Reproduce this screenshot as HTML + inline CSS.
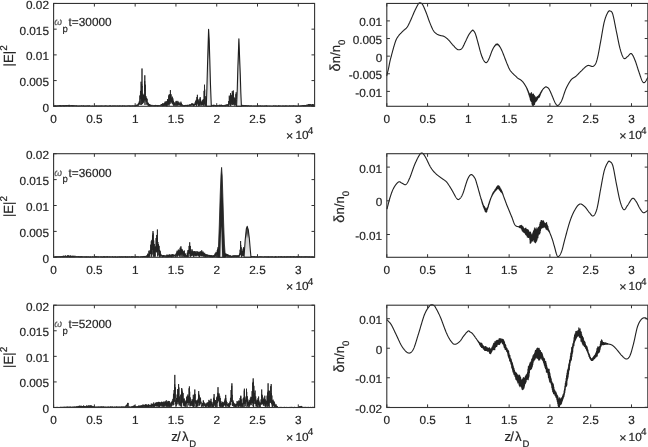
<!DOCTYPE html>
<html><head><meta charset="utf-8"><style>
html,body{margin:0;padding:0;background:#fff;width:648px;height:447px;overflow:hidden}
svg{display:block;filter:grayscale(1)}
text{text-rendering:geometricPrecision}
</style></head><body>
<svg width="648" height="447" viewBox="0 0 648 447">
<defs><linearGradient id="tg" x1="0" y1="0" x2="0" y2="1"><stop offset="0" stop-color="#333"/><stop offset="0.22" stop-color="#555"/><stop offset="0.4" stop-color="#d0d0d0"/><stop offset="1" stop-color="#eee"/></linearGradient></defs>
<g font-family="Liberation Sans, sans-serif" font-size="11.8" fill="#262626">
<polyline points="54.10,105.56 54.40,106.25 54.70,105.41 55.00,106.27 55.30,105.44 55.60,106.16 55.90,105.63 56.20,106.11 56.50,105.63 56.80,106.13 57.10,105.60 57.40,106.26 57.70,105.43 58.00,105.97 58.30,105.56 58.60,106.21 58.90,105.31 59.20,105.91 59.50,105.32 59.80,106.13 60.10,105.11 60.40,106.28 60.70,105.15 61.00,106.18 61.30,105.49 61.60,106.25 61.90,105.39 62.20,105.94 62.50,105.44 62.80,106.04 63.10,105.19 63.40,106.13 63.70,105.23 64.00,106.27 64.30,105.47 64.60,106.20 64.90,105.13 65.20,106.10 65.50,105.31 65.80,106.02 66.10,105.22 66.40,106.15 66.70,105.01 67.00,105.96 67.30,105.31 67.60,106.01 67.90,105.14 68.20,105.86 68.50,105.00 68.80,106.15 69.10,104.84 69.40,106.24 69.70,105.16 70.00,105.90 70.30,105.33 70.60,106.05 70.90,105.43 71.20,105.98 71.50,105.08 71.80,106.04 72.10,105.07 72.40,106.16 72.70,105.22 73.00,106.05 73.30,105.33 73.60,106.12 73.90,105.26 74.20,105.94 74.50,105.47 74.80,106.06 75.10,105.68 75.40,106.06 75.70,105.45 76.00,105.96 76.30,105.39 76.60,106.20 76.90,105.56 77.20,106.07 77.50,105.71 77.80,106.14 78.10,105.66 78.40,106.26 78.70,105.71 79.00,106.05 79.30,105.69 79.60,106.22 79.90,105.59 80.20,106.02 80.50,105.71 80.80,106.15 81.10,105.55 81.40,106.02 81.70,105.46 82.00,106.03 82.30,105.66 82.60,106.17 82.90,105.63 83.20,106.02 83.50,105.43 83.80,106.25 84.10,105.71 84.40,106.23 84.70,105.70 85.00,106.15 85.30,105.58 85.60,106.22 85.90,105.79 86.20,106.18 86.50,105.67 86.80,106.13 87.10,105.48 87.40,106.10 87.70,105.63 88.00,106.12 88.30,105.58 88.60,106.28 88.90,105.52 89.20,106.08 89.50,105.53 89.80,106.08 90.10,105.69 90.40,106.19 90.70,105.79 91.00,106.12 91.30,105.80 91.60,106.28 91.90,105.75 92.20,106.25 92.50,105.71 92.80,106.29 93.10,105.82 93.40,106.26 93.70,105.79 94.00,106.20 94.30,105.81 94.60,106.06 94.90,105.62 95.20,106.26 95.50,105.74 95.80,106.20 96.10,105.70 96.40,106.27 96.70,105.55 97.00,106.02 97.30,105.67 97.60,106.16 97.90,105.79 98.20,106.27 98.50,105.71 98.80,106.23 99.10,105.55 99.40,106.25 99.70,105.81 100.00,106.03 100.30,105.65 100.60,106.26 100.90,105.65 101.20,106.29 101.50,105.65 101.80,106.03 102.10,105.54 102.40,106.11 102.70,105.74 103.00,106.20 103.30,105.77 103.60,106.08 103.90,105.65 104.20,106.08 104.50,105.71 104.80,106.24 105.10,105.56 105.40,106.02 105.70,105.55 106.00,106.07 106.30,105.56 106.60,106.09 106.90,105.75 107.20,106.16 107.50,105.71 107.80,106.29 108.10,105.81 108.40,106.22 108.70,105.74 109.00,106.11 109.30,105.51 109.60,106.17 109.90,105.52 110.20,106.02 110.50,105.51 110.80,106.20 111.10,105.75 111.40,106.24 111.70,105.76 112.00,106.24 112.30,105.62 112.60,106.05 112.90,105.55 113.20,106.17 113.50,105.61 113.80,106.08 114.10,105.79 114.40,106.12 114.70,105.53 115.00,106.08 115.30,105.58 115.60,106.17 115.90,105.76 116.20,106.08 116.50,105.71 116.80,106.08 117.10,105.51 117.40,106.19 117.70,105.69 118.00,106.03 118.30,105.59 118.60,106.25 118.90,105.78 119.20,106.26 119.50,105.53 119.80,106.07 120.10,105.77 120.40,106.07 120.70,105.50 121.00,106.11 121.30,105.70 121.60,106.14 121.90,105.76 122.20,106.30 122.50,105.48 122.80,106.11 123.10,105.62 123.40,106.02 123.70,105.64 124.00,106.04 124.30,105.50 124.60,106.24 124.90,105.69 125.20,106.21 125.50,105.69 125.80,106.12 126.10,105.68 126.40,106.17 126.70,105.72 127.00,106.02 127.30,105.63 127.60,106.16 127.90,105.55 128.20,106.01 128.50,105.60 128.80,106.01 129.10,105.56 129.40,106.13 129.70,105.55 130.00,106.29 130.30,105.57 130.60,106.24 130.90,105.73 131.20,106.03 131.50,105.66 131.80,106.14 132.10,105.44 132.40,106.11 132.70,105.59 133.00,106.12 133.30,105.50 133.60,106.03 133.90,105.67 134.20,106.11 134.50,105.61 134.80,106.20 135.10,105.35 135.40,106.09 135.70,105.24 136.00,105.93 136.30,104.83 136.60,106.05 136.90,104.81 137.20,105.97 137.50,104.69 137.80,105.67 138.10,103.80 138.40,105.59 138.70,102.82 139.00,104.65 139.30,101.37 139.60,104.07 139.90,95.49 140.20,104.95 140.50,90.92 140.80,98.88 141.10,81.70 141.40,104.85 141.70,84.27 142.00,100.45 141.95,87.40 142.00,68.50 142.05,87.40 142.30,86.26 142.60,104.12 142.90,93.73 143.20,102.62 143.50,95.08 143.80,102.56 144.10,94.63 144.40,100.44 144.70,81.16 144.75,90.80 144.80,75.30 144.85,90.80 145.00,104.92 145.30,84.70 145.60,100.32 145.90,96.12 146.20,101.97 146.50,97.80 146.80,104.70 147.10,98.73 147.40,104.41 147.70,102.48 148.00,105.54 148.30,102.87 148.60,105.88 148.90,104.30 149.20,105.99 149.50,103.97 149.80,106.28 150.10,104.41 150.40,105.97 150.70,105.10 151.00,106.09 151.30,104.89 151.60,106.03 151.90,105.36 152.20,105.78 152.50,104.93 152.80,105.79 153.10,105.34 153.40,106.16 153.70,105.38 154.00,105.89 154.30,105.24 154.60,106.23 154.90,105.15 155.20,105.82 155.50,104.91 155.80,106.16 156.10,105.31 156.40,105.82 156.70,105.06 157.00,105.93 157.30,105.35 157.60,106.27 157.90,104.99 158.20,106.08 158.50,105.36 158.80,105.81 159.10,105.02 159.40,105.88 159.70,105.35 160.00,105.85 160.30,105.20 160.60,105.70 160.90,104.54 161.20,106.00 161.50,104.04 161.80,105.33 162.10,104.00 162.40,106.14 162.70,103.26 163.00,105.97 163.30,103.62 163.60,106.05 163.90,103.51 164.20,105.97 164.50,102.79 164.80,105.77 165.10,101.62 165.40,105.76 165.70,101.76 166.00,105.92 166.30,101.51 166.60,106.26 166.90,101.20 167.20,106.26 167.50,99.07 167.80,104.66 168.10,99.96 168.40,104.59 168.70,95.43 169.00,105.85 169.30,94.30 169.60,104.21 169.90,94.55 170.20,101.74 170.35,98.20 170.40,90.10 170.45,98.20 170.50,94.31 170.80,103.68 171.10,94.34 171.40,101.97 171.70,97.82 172.00,103.04 172.30,96.68 172.60,103.94 172.90,98.45 173.20,105.08 173.50,100.78 173.80,105.95 174.10,102.14 174.40,104.87 174.70,103.23 175.00,106.06 175.30,103.47 175.60,104.90 175.90,101.53 176.20,105.05 176.25,103.60 176.30,100.90 176.35,103.60 176.50,102.45 176.80,105.84 177.10,102.43 177.40,105.43 177.70,102.72 177.75,103.60 177.80,100.90 177.85,103.60 178.00,105.48 178.30,102.80 178.60,104.72 178.90,101.91 179.20,105.50 179.50,103.48 179.80,104.89 180.10,103.20 180.40,105.75 180.70,103.59 180.85,104.00 180.90,101.70 180.95,104.00 181.00,105.70 181.30,103.09 181.60,105.66 181.90,104.09 182.20,105.80 182.50,104.83 182.80,106.11 183.10,105.26 183.40,106.09 183.70,105.37 184.00,106.29 184.30,105.22 184.60,106.18 184.90,105.05 185.20,106.02 185.50,104.95 185.80,105.95 186.10,104.97 186.40,105.84 186.70,105.17 187.00,106.13 187.30,104.81 187.60,106.22 187.90,104.97 188.20,105.96 188.50,105.37 188.80,105.83 189.10,104.62 189.40,105.88 189.70,104.45 190.00,105.67 190.30,104.74 190.60,105.84 190.90,104.15 191.20,105.47 191.50,103.54 191.80,105.40 192.10,103.64 192.40,105.28 192.70,103.40 193.00,105.48 193.30,103.90 193.60,106.26 193.90,103.95 194.20,105.84 194.50,103.90 194.80,105.19 195.10,102.44 195.40,105.07 195.70,100.80 196.00,104.55 196.30,99.74 196.60,106.29 196.90,97.09 197.20,103.44 197.35,100.55 197.40,94.80 197.45,100.55 197.50,97.49 197.80,104.52 198.10,99.39 198.40,106.15 198.70,100.59 199.00,105.69 199.30,101.57 199.60,105.55 199.90,98.60 200.15,101.70 200.20,97.10 200.25,101.70 200.20,105.64 200.50,98.93 200.80,103.82 201.10,101.28 201.40,105.59 201.70,102.03 202.00,104.87 202.30,100.36 202.60,104.76 202.90,99.68 203.20,106.07 203.50,99.26 203.80,105.06 204.10,90.84 204.40,104.11 204.45,95.50 204.50,84.70 204.55,95.50 204.70,89.55 205.00,106.22 205.30,96.19 205.60,105.52 205.90,103.71 206.20,105.59 206.50,103.80 206.80,106.01 207.10,104.06 207.40,105.86 207.70,104.20 208.00,106.19 208.30,103.85 208.60,106.13 208.90,103.87 209.20,105.51 209.50,104.87 209.80,105.93 210.10,104.22 210.40,105.56 210.70,104.63 211.00,106.10 211.30,104.91 211.60,105.65 211.90,105.02 212.20,105.94 212.50,105.21 212.80,106.01 213.10,104.83 213.40,106.23 213.70,104.91 214.00,106.03 214.30,104.87 214.60,105.93 214.90,105.26 215.20,105.83 215.50,105.11 215.80,106.29 216.10,105.40 216.40,106.04 216.70,105.13 217.00,106.14 217.30,105.32 217.60,106.12 217.90,105.21 218.20,105.86 218.50,105.40 218.80,105.91 219.10,104.90 219.40,106.24 219.70,104.84 220.00,105.93 220.30,104.84 220.60,106.14 220.90,105.14 221.20,106.08 221.50,104.71 221.80,105.97 222.10,105.09 222.40,106.05 222.70,105.12 223.00,106.27 223.30,105.21 223.60,105.80 223.90,105.06 224.20,105.73 224.50,105.06 224.80,106.13 225.10,104.85 225.40,106.18 225.70,104.92 226.00,105.68 226.30,104.51 226.60,105.76 226.90,104.67 227.20,105.68 227.50,104.39 227.80,105.92 228.10,104.54 228.40,106.25 228.70,101.01 229.00,104.90 229.30,95.67 229.60,103.54 229.90,97.23 230.20,106.07 230.50,93.10 230.80,105.67 231.10,94.86 231.40,104.51 231.70,95.51 232.00,102.38 232.30,91.15 232.60,104.89 232.90,92.85 233.20,104.64 233.25,98.40 233.30,90.50 233.35,98.40 233.50,93.79 233.80,104.33 234.10,97.36 234.40,105.59 234.70,98.38 235.00,102.91 235.30,98.47 235.60,105.44 235.90,94.17 236.15,99.30 236.20,92.30 236.25,99.30 236.20,101.42 236.50,100.06 236.80,106.20 237.10,104.97 237.40,106.24 237.70,104.89 238.00,106.24 238.30,105.01 238.60,106.14 238.90,104.81 239.20,105.75 239.50,104.74 239.80,106.05 240.10,105.02 240.40,106.00 240.70,105.09 241.00,106.11 241.30,105.33 241.60,106.15 241.90,104.82 242.20,106.24 242.50,105.14 242.80,105.99 243.10,104.98 243.40,106.20 243.70,105.35 244.00,106.19 244.30,105.32 244.60,106.10 244.90,105.08 245.20,105.94 245.50,105.17 245.80,106.29 246.10,105.60 246.40,106.02 246.70,105.26 247.00,106.12 247.30,105.44 247.60,106.30 247.90,105.56 248.20,105.99 248.50,105.44 248.80,106.03 249.10,105.43 249.40,106.23 249.70,105.77 250.00,106.26 250.30,105.65 250.60,106.11 250.90,105.52 251.20,106.10 251.50,105.61 251.80,106.09 252.10,105.67 252.40,106.15 252.70,105.81 253.00,106.08 253.30,105.75 253.60,106.04 253.90,105.61 254.20,106.21 254.50,105.78 254.80,106.23 255.10,105.62 255.40,106.10 255.70,105.78 256.00,106.28 256.30,105.65 256.60,106.14 256.90,105.70 257.20,106.24 257.50,105.63 257.80,106.30 258.10,105.72 258.40,106.17 258.70,105.51 259.00,106.12 259.30,105.54 259.60,106.17 259.90,105.74 260.20,106.23 260.50,105.51 260.80,106.10 261.10,105.72 261.40,106.29 261.70,105.66 262.00,106.11 262.30,105.69 262.60,106.23 262.90,105.61 263.20,106.04 263.50,105.75 263.80,106.29 264.10,105.71 264.40,106.18 264.70,105.60 265.00,106.24 265.30,105.56 265.60,106.09 265.90,105.66 266.20,106.24 266.50,105.51 266.80,106.21 267.10,105.56 267.40,106.24 267.70,105.75 268.00,106.09 268.30,105.73 268.60,106.03 268.90,105.66 269.20,106.25 269.50,105.75 269.80,106.18 270.10,105.61 270.40,106.03 270.70,105.77 271.00,106.19 271.30,105.75 271.60,106.03 271.90,105.77 272.20,106.29 272.50,105.80 272.80,106.19 273.10,105.53 273.40,106.05 273.70,105.59 274.00,106.02 274.30,105.52 274.60,106.21 274.90,105.76 275.20,106.04 275.50,105.58 275.80,106.29 276.10,105.61 276.40,106.19 276.70,105.70 277.00,106.21 277.30,105.77 277.60,106.30 277.90,105.73 278.20,106.20 278.50,105.51 278.80,106.27 279.10,105.51 279.40,106.24 279.70,105.71 280.00,106.07 280.30,105.56 280.60,106.18 280.90,105.80 281.20,106.17 281.50,105.70 281.80,106.04 282.10,105.76 282.40,106.20 282.70,105.53 283.00,106.29 283.30,105.69 283.60,106.07 283.90,105.57 284.20,106.29 284.50,105.81 284.80,106.28 285.10,105.53 285.40,106.23 285.70,105.58 286.00,106.05 286.30,105.71 286.60,106.22 286.90,105.51 287.20,106.13 287.50,105.74 287.80,106.10 288.10,105.72 288.40,106.22 288.70,105.82 289.00,106.09 289.30,105.53 289.60,106.12 289.90,105.52 290.20,106.29 290.50,105.75 290.80,106.17 291.10,105.51 291.40,106.03 291.70,105.70 292.00,106.23 292.30,105.68 292.60,106.16 292.90,105.52 293.20,106.25 293.50,105.56 293.80,106.09 294.10,105.56 294.40,106.08 294.70,105.63 295.00,106.21 295.30,105.72 295.60,106.20 295.90,105.57 296.20,106.28 296.50,105.76 296.80,106.09 297.10,105.74 297.40,106.28 297.70,105.81 298.00,106.15 298.30,105.72 298.60,106.03 298.90,105.54 299.20,106.02 299.50,105.74 299.80,106.28 300.10,105.78 300.40,106.15 300.70,105.51 301.00,106.15 301.30,105.62 301.60,106.15 301.90,105.40 302.20,106.04 302.50,105.27 302.80,105.95 303.10,105.23 303.40,106.25 303.70,105.07 304.00,106.16 304.30,105.14 304.60,106.11 304.90,104.97 305.20,106.19 305.50,105.18 305.80,106.16 306.10,105.16 306.40,105.75 306.70,104.77 307.00,106.08 307.30,104.81 307.60,105.60 307.90,104.63 308.20,106.13 308.50,104.27 308.80,105.78 309.10,103.99 309.40,106.21 309.70,104.37 310.00,105.58 310.30,103.99 310.60,105.52 310.90,104.82 311.20,106.06 311.50,104.79 311.80,106.15 312.10,104.05 312.40,105.84 312.70,104.16 313.00,106.02 313.30,104.27 313.60,105.97 313.90,104.84" fill="none" stroke="#222" stroke-width="0.85" stroke-linejoin="round"/>
<polygon points="206.30,106.30 206.90,88.00 207.50,66.00 208.10,45.00 208.60,29.30 209.20,40.00 209.80,60.00 210.50,85.00 211.30,106.30" fill="url(#tg)" stroke="#1e1e1e" stroke-width="1.1" stroke-linejoin="round"/>
<polygon points="236.60,106.30 237.30,88.00 237.90,66.00 238.90,38.80 239.50,55.00 240.30,75.00 240.80,92.00 241.40,106.30" fill="url(#tg)" stroke="#1e1e1e" stroke-width="1.1" stroke-linejoin="round"/>
<rect x="53.6" y="3.45" width="261" height="102.85" fill="none" stroke="#333333" stroke-width="1.1"/>
<path d="M53.6 106.3v-3.1M53.6 3.45v3.1M94.38 106.3v-3.1M94.38 3.45v3.1M135.16 106.3v-3.1M135.16 3.45v3.1M175.94 106.3v-3.1M175.94 3.45v3.1M216.72 106.3v-3.1M216.72 3.45v3.1M257.51 106.3v-3.1M257.51 3.45v3.1M298.29 106.3v-3.1M298.29 3.45v3.1M53.6 106.3h3.1M314.6 106.3h-3.1M53.6 80.59h3.1M314.6 80.59h-3.1M53.6 54.88h3.1M314.6 54.88h-3.1M53.6 29.16h3.1M314.6 29.16h-3.1M53.6 3.45h3.1M314.6 3.45h-3.1" stroke="#333333" stroke-width="1" fill="none"/>
<text x="53.60" y="122.90" font-size="11.80" fill="#262626" stroke="#262626" stroke-width="0.2" text-anchor="middle">0</text>
<text x="94.38" y="122.90" font-size="11.80" fill="#262626" stroke="#262626" stroke-width="0.2" text-anchor="middle">0.5</text>
<text x="135.16" y="122.90" font-size="11.80" fill="#262626" stroke="#262626" stroke-width="0.2" text-anchor="middle">1</text>
<text x="175.94" y="122.90" font-size="11.80" fill="#262626" stroke="#262626" stroke-width="0.2" text-anchor="middle">1.5</text>
<text x="216.72" y="122.90" font-size="11.80" fill="#262626" stroke="#262626" stroke-width="0.2" text-anchor="middle">2</text>
<text x="257.51" y="122.90" font-size="11.80" fill="#262626" stroke="#262626" stroke-width="0.2" text-anchor="middle">2.5</text>
<text x="298.29" y="122.90" font-size="11.80" fill="#262626" stroke="#262626" stroke-width="0.2" text-anchor="middle">3</text>
<text x="49.00" y="111.70" font-size="11.80" fill="#262626" stroke="#262626" stroke-width="0.2" text-anchor="end">0</text>
<text x="49.00" y="85.99" font-size="11.80" fill="#262626" stroke="#262626" stroke-width="0.2" text-anchor="end">0.005</text>
<text x="49.00" y="60.27" font-size="11.80" fill="#262626" stroke="#262626" stroke-width="0.2" text-anchor="end">0.01</text>
<text x="49.00" y="34.56" font-size="11.80" fill="#262626" stroke="#262626" stroke-width="0.2" text-anchor="end">0.015</text>
<text x="49.00" y="8.85" font-size="11.80" fill="#262626" stroke="#262626" stroke-width="0.2" text-anchor="end">0.02</text>
<text x="286.10" y="140.30" font-size="12.51" fill="#262626" stroke="#262626" stroke-width="0.2">×</text>
<text x="295.40" y="139.40" font-size="11.80" fill="#262626" stroke="#262626" stroke-width="0.2">10</text>
<text x="307.80" y="134.00" font-size="10.00" fill="#262626" stroke="#262626" stroke-width="0.2">4</text>
<polyline points="54.10,256.36 54.40,256.95 54.70,256.62 55.00,257.07 55.30,256.37 55.60,257.21 55.90,256.45 56.20,257.24 56.50,256.50 56.80,257.19 57.10,256.29 57.40,257.02 57.70,256.45 58.00,257.29 58.30,256.36 58.60,256.99 58.90,256.41 59.20,257.15 59.50,256.38 59.80,256.92 60.10,256.16 60.40,257.27 60.70,256.39 61.00,257.10 61.30,256.10 61.60,256.97 61.90,256.35 62.20,257.21 62.50,255.95 62.80,257.08 63.10,256.16 63.40,257.13 63.70,255.69 64.00,257.12 64.30,255.90 64.60,257.09 64.90,255.96 65.20,256.77 65.50,255.51 65.80,257.07 66.10,256.05 66.40,256.82 66.70,256.01 67.00,257.30 67.30,255.43 67.60,257.01 67.90,255.45 68.20,257.02 68.50,255.43 68.80,256.99 69.10,256.02 69.40,257.29 69.70,255.76 70.00,256.88 70.30,255.53 70.60,257.24 70.90,255.78 71.20,257.07 71.50,255.90 71.80,257.21 72.10,256.08 72.40,256.99 72.70,255.69 73.00,257.24 73.30,256.01 73.60,256.85 73.90,255.74 74.20,257.19 74.50,256.30 74.80,256.80 75.10,255.82 75.40,257.05 75.70,256.39 76.00,256.83 76.30,256.22 76.60,256.85 76.90,256.11 77.20,256.90 77.50,256.39 77.80,256.93 78.10,256.37 78.40,257.11 78.70,256.07 79.00,256.92 79.30,256.43 79.60,257.20 79.90,256.35 80.20,257.08 80.50,256.38 80.80,257.25 81.10,256.46 81.40,257.00 81.70,256.18 82.00,257.28 82.30,256.36 82.60,257.00 82.90,256.62 83.20,256.98 83.50,256.60 83.80,257.08 84.10,256.44 84.40,257.07 84.70,256.57 85.00,257.15 85.30,256.47 85.60,257.15 85.90,256.44 86.20,257.14 86.50,256.52 86.80,257.29 87.10,256.45 87.40,257.13 87.70,256.61 88.00,257.03 88.30,256.39 88.60,257.14 88.90,256.63 89.20,257.13 89.50,256.66 89.80,257.26 90.10,256.53 90.40,257.27 90.70,256.52 91.00,257.12 91.30,256.68 91.60,257.08 91.90,256.67 92.20,257.04 92.50,256.39 92.80,257.12 93.10,256.68 93.40,257.12 93.70,256.55 94.00,256.97 94.30,256.65 94.60,257.00 94.90,256.30 95.20,257.04 95.50,256.37 95.80,257.23 96.10,256.31 96.40,257.13 96.70,256.32 97.00,256.98 97.30,256.63 97.60,257.02 97.90,256.33 98.20,257.28 98.50,256.56 98.80,257.04 99.10,256.64 99.40,256.99 99.70,256.59 100.00,257.01 100.30,256.64 100.60,257.12 100.90,256.33 101.20,257.23 101.50,256.59 101.80,257.12 102.10,256.57 102.40,257.29 102.70,256.63 103.00,257.24 103.30,256.33 103.60,257.06 103.90,256.34 104.20,257.24 104.50,256.39 104.80,257.26 105.10,256.49 105.40,257.08 105.70,256.56 106.00,256.99 106.30,256.48 106.60,257.10 106.90,256.35 107.20,257.26 107.50,256.30 107.80,257.08 108.10,256.54 108.40,257.02 108.70,256.59 109.00,256.95 109.30,256.47 109.60,257.17 109.90,256.39 110.20,257.15 110.50,256.63 110.80,257.04 111.10,256.68 111.40,257.01 111.70,256.60 112.00,257.08 112.30,256.31 112.60,257.09 112.90,256.43 113.20,257.19 113.50,256.70 113.80,257.29 114.10,256.64 114.40,257.08 114.70,256.53 115.00,257.12 115.30,256.34 115.60,257.25 115.90,256.61 116.20,257.07 116.50,256.69 116.80,257.30 117.10,256.56 117.40,257.26 117.70,256.56 118.00,257.22 118.30,256.47 118.60,257.09 118.90,256.62 119.20,257.08 119.50,256.51 119.80,257.25 120.10,256.33 120.40,257.21 120.70,256.64 121.00,257.27 121.30,256.44 121.60,257.00 121.90,256.39 122.20,257.16 122.50,256.59 122.80,257.30 123.10,256.44 123.40,257.10 123.70,256.56 124.00,257.07 124.30,256.52 124.60,256.97 124.90,256.41 125.20,257.21 125.50,256.34 125.80,257.28 126.10,256.49 126.40,257.16 126.70,256.60 127.00,257.28 127.30,256.39 127.60,257.30 127.90,256.48 128.20,256.97 128.50,256.64 128.80,257.23 129.10,256.46 129.40,257.12 129.70,256.44 130.00,257.02 130.30,256.63 130.60,257.19 130.90,256.58 131.20,257.28 131.50,256.34 131.80,257.03 132.10,256.41 132.40,257.30 132.70,256.36 133.00,257.04 133.30,256.51 133.60,257.04 133.90,256.52 134.20,257.22 134.50,256.66 134.80,257.22 135.10,256.68 135.40,257.18 135.70,256.40 136.00,257.06 136.30,256.36 136.60,257.05 136.90,256.59 137.20,257.11 137.50,256.53 137.80,257.02 138.10,256.49 138.40,257.21 138.70,256.44 139.00,256.96 139.30,256.61 139.60,256.99 139.90,256.69 140.20,257.21 140.50,256.58 140.80,257.02 141.10,256.23 141.40,257.01 141.70,256.47 142.00,256.94 142.30,256.43 142.60,257.20 142.90,256.10 143.20,257.02 143.50,256.17 143.80,256.99 144.10,255.97 144.40,257.08 144.70,256.00 145.00,256.95 145.30,255.94 145.60,257.08 145.90,255.97 146.20,256.96 146.50,255.83 146.80,257.13 147.10,255.03 147.40,257.22 147.70,253.68 148.00,257.07 148.30,254.09 148.60,257.08 148.90,250.74 149.20,256.39 149.50,251.70 149.80,257.20 150.10,250.12 150.40,254.10 150.70,244.70 151.00,253.32 151.30,241.30 151.60,256.85 151.90,239.88 152.20,254.46 152.50,235.27 152.80,250.06 152.95,244.20 153.00,231.10 153.05,244.20 153.10,233.39 153.40,256.81 153.70,240.44 154.00,252.76 154.30,243.99 154.60,256.75 154.90,246.75 155.20,256.66 155.50,246.53 155.80,251.62 156.10,238.08 156.40,252.33 156.70,234.96 157.00,251.63 157.30,237.81 157.35,243.40 157.40,229.50 157.45,243.40 157.60,256.38 157.90,242.00 158.20,251.57 158.50,244.13 158.80,255.40 159.10,245.89 159.40,257.21 159.70,249.93 160.00,256.48 160.30,251.21 160.60,256.56 160.90,253.89 161.20,256.09 161.50,255.30 161.80,256.56 162.10,255.18 162.40,257.27 162.70,255.39 163.00,256.92 163.30,255.03 163.60,257.00 163.90,255.10 164.20,256.83 164.50,255.58 164.80,256.55 165.10,255.70 165.40,256.57 165.70,255.58 166.00,257.30 166.30,255.51 166.60,256.59 166.90,254.63 167.20,257.30 167.50,255.11 167.80,256.82 168.10,254.72 168.40,257.12 168.70,255.01 169.00,256.95 169.30,254.57 169.60,257.03 169.90,254.38 170.20,257.00 170.50,255.20 170.80,256.54 171.10,254.79 171.40,257.18 171.70,254.56 172.00,257.21 172.30,254.30 172.60,256.49 172.90,254.23 173.20,256.55 173.50,254.76 173.80,256.81 174.10,254.65 174.40,256.20 174.70,255.03 175.00,256.13 175.30,254.74 175.60,256.97 175.90,253.72 176.20,255.56 176.50,252.52 176.80,256.45 177.10,250.76 177.40,256.70 177.70,251.26 178.00,255.81 178.30,249.80 178.60,255.03 178.90,249.63 179.20,256.17 179.50,250.32 179.80,256.76 180.10,247.76 180.40,254.87 180.70,247.62 180.85,251.80 180.90,246.30 180.95,251.80 181.00,256.65 181.30,249.06 181.60,254.50 181.90,248.94 182.20,256.87 182.50,249.86 182.80,254.45 183.10,251.14 183.40,256.73 183.70,251.50 184.00,255.42 184.30,250.51 184.60,256.93 184.90,253.04 185.20,256.81 185.50,253.91 185.80,256.63 186.10,255.53 186.40,257.04 186.70,255.12 187.00,255.88 187.30,252.78 187.60,257.09 187.90,250.24 188.20,257.00 188.50,249.93 188.80,253.48 189.10,245.93 189.40,253.79 189.65,249.80 189.70,242.30 189.75,249.80 189.70,245.69 190.00,256.33 190.30,246.01 190.60,256.84 190.90,249.52 191.20,255.87 191.50,251.41 191.80,256.06 192.10,249.42 192.40,255.29 192.70,250.90 193.00,255.60 193.30,251.49 193.60,256.95 193.90,251.44 194.20,256.32 194.50,251.15 194.80,255.14 195.10,252.09 195.40,255.95 195.70,251.32 196.00,256.33 196.30,252.77 196.60,255.66 196.90,251.17 197.20,255.57 197.50,251.73 197.80,255.42 198.10,251.75 198.40,255.86 198.70,252.24 199.00,256.58 199.30,251.70 199.60,257.07 199.90,252.17 200.20,255.46 200.50,251.29 200.80,255.79 201.10,252.47 201.40,256.27 201.65,253.80 201.70,250.30 201.75,253.80 201.70,251.83 202.00,255.83 202.30,252.33 202.60,255.82 202.90,251.46 203.20,256.93 203.50,252.55 203.80,255.87 204.10,253.52 204.40,256.48 204.70,252.83 205.00,257.24 205.30,254.02 205.60,257.09 205.90,254.04 206.20,256.16 206.50,254.58 206.80,257.18 207.10,254.66 207.40,256.72 207.70,254.65 208.00,256.78 208.30,254.91 208.60,256.52 208.90,255.20 209.20,256.94 209.50,254.95 209.80,257.13 210.10,255.29 210.40,256.98 210.70,255.22 211.00,257.20 211.30,255.01 211.60,257.01 211.90,255.87 212.20,257.08 212.50,255.55 212.80,257.29 213.10,255.53 213.40,256.96 213.70,255.28 214.00,256.98 214.30,255.13 214.60,257.02 214.90,253.70 215.20,255.83 215.50,253.29 215.80,256.88 216.10,251.88 216.40,256.43 216.70,252.63 217.00,256.97 217.30,250.11 217.60,254.81 217.90,249.02 217.95,252.30 218.00,247.30 218.05,252.30 218.20,256.12 218.50,254.83 218.80,257.06 219.10,254.34 219.40,256.93 219.70,254.73 220.00,256.44 220.30,254.52 220.60,256.81 220.90,255.15 221.20,256.72 221.50,255.35 221.80,256.42 222.10,255.07 222.40,256.41 222.70,255.18 223.00,256.91 223.30,255.20 223.60,256.85 223.90,255.28 224.20,257.30 224.50,254.63 224.80,257.00 225.10,255.12 225.40,256.93 225.70,254.23 225.75,255.30 225.80,253.30 225.85,255.30 226.00,256.71 226.30,254.08 226.60,256.46 226.90,254.71 227.20,256.22 227.50,254.30 227.80,257.24 228.10,254.60 228.40,256.42 228.70,254.91 229.00,257.18 229.30,255.12 229.60,256.81 229.90,256.06 230.20,257.29 230.50,255.34 230.80,256.84 231.10,255.90 231.40,257.23 231.70,255.99 232.00,257.14 232.30,255.48 232.60,257.06 232.90,255.98 233.20,256.67 233.50,255.47 233.80,257.18 234.10,255.39 234.40,256.87 234.70,255.47 235.00,256.83 235.30,255.38 235.60,256.75 235.90,255.43 236.20,257.16 236.50,255.55 236.80,256.93 237.10,255.51 237.40,256.99 237.70,255.39 238.00,256.91 238.30,255.56 238.60,257.06 238.90,255.08 239.20,256.64 239.50,253.63 239.80,255.87 240.10,249.69 240.40,254.82 240.55,249.15 240.60,241.00 240.65,249.15 240.70,244.92 241.00,254.84 241.30,247.30 241.60,257.28 241.90,251.02 242.20,256.10 242.50,250.75 242.80,255.31 243.10,248.71 243.40,256.01 243.45,252.30 243.50,247.30 243.55,252.30 243.70,251.16 244.00,255.62 244.30,256.04 244.60,256.86 244.90,255.63 245.20,257.28 245.50,255.68 245.80,256.85 246.10,255.47 246.40,257.09 246.70,255.48 247.00,256.98 247.30,255.88 247.60,256.74 247.90,256.22 248.20,256.86 248.50,255.84 248.80,257.10 249.10,255.72 249.40,257.09 249.70,256.01 250.00,257.00 250.30,255.86 250.60,257.18 250.90,256.10 251.20,257.07 251.50,256.06 251.80,256.87 252.10,256.28 252.40,256.90 252.70,256.28 253.00,257.07 253.30,256.41 253.60,257.09 253.90,256.15 254.20,257.04 254.50,256.32 254.80,257.18 255.10,256.57 255.40,257.20 255.70,256.47 256.00,257.08 256.30,256.39 256.60,257.29 256.90,256.41 257.20,256.99 257.50,256.48 257.80,257.28 258.10,256.58 258.40,257.30 258.70,256.62 259.00,256.98 259.30,256.46 259.60,257.07 259.90,256.38 260.20,256.98 260.50,256.46 260.80,257.08 261.10,256.45 261.40,257.06 261.70,256.46 262.00,257.06 262.30,256.61 262.60,257.07 262.90,256.52 263.20,257.03 263.50,256.66 263.80,257.24 264.10,256.69 264.40,257.03 264.70,256.33 265.00,257.07 265.30,256.55 265.60,257.01 265.90,256.39 266.20,257.10 266.50,256.60 266.80,257.19 267.10,256.53 267.40,257.19 267.70,256.53 268.00,257.08 268.30,256.33 268.60,257.28 268.90,256.47 269.20,257.29 269.50,256.65 269.80,257.02 270.10,256.47 270.40,256.98 270.70,256.52 271.00,257.30 271.30,256.55 271.60,257.09 271.90,256.32 272.20,256.96 272.50,256.51 272.80,257.16 273.10,256.66 273.40,257.07 273.70,256.62 274.00,257.25 274.30,256.69 274.60,257.30 274.90,256.43 275.20,257.26 275.50,256.31 275.80,257.27 276.10,256.35 276.40,257.25 276.70,256.69 277.00,257.05 277.30,256.60 277.60,257.04 277.90,256.63 278.20,257.28 278.50,256.39 278.80,257.05 279.10,256.36 279.40,257.04 279.70,256.67 280.00,257.08 280.30,256.42 280.60,257.14 280.90,256.33 281.20,257.21 281.50,256.31 281.80,257.05 282.10,256.70 282.40,257.29 282.70,256.44 283.00,257.01 283.30,256.67 283.60,257.19 283.90,256.41 284.20,257.24 284.50,256.36 284.80,257.13 285.10,256.68 285.40,257.17 285.70,256.47 286.00,257.15 286.30,256.43 286.60,257.25 286.90,256.38 287.20,257.17 287.50,256.44 287.80,257.08 288.10,256.53 288.40,257.16 288.70,256.39 289.00,256.97 289.30,256.39 289.60,257.10 289.90,256.58 290.20,257.28 290.50,256.31 290.80,257.05 291.10,256.37 291.40,257.18 291.70,256.46 292.00,256.96 292.30,256.37 292.60,257.09 292.90,256.58 293.20,257.15 293.50,256.34 293.80,257.17 294.10,256.43 294.40,257.09 294.70,256.34 295.00,257.02 295.30,256.59 295.60,257.30 295.90,256.59 296.20,257.15 296.50,256.47 296.80,257.01 297.10,256.35 297.40,257.29 297.70,256.37 298.00,257.02 298.30,256.35 298.60,257.10 298.90,256.59 299.20,257.00 299.50,256.38 299.80,257.06 300.10,256.33 300.40,257.18 300.70,256.67 301.00,257.11 301.30,256.38 301.60,257.23 301.90,256.40 302.20,256.97 302.50,256.61 302.80,257.09 303.10,256.43 303.40,257.14 303.70,256.62 304.00,257.21 304.30,256.40 304.60,257.02 304.90,256.52 305.20,257.27 305.50,256.38 305.80,257.03 306.10,256.61 306.40,257.10 306.70,256.34 307.00,256.99 307.30,256.49 307.60,257.13 307.90,256.46 308.20,257.23 308.50,256.62 308.80,257.24 309.10,256.42 309.40,257.17 309.70,256.47 310.00,257.16 310.30,256.49 310.60,257.25 310.90,256.68 311.20,256.95 311.50,256.55 311.80,257.26 312.10,256.45 312.40,257.02 312.70,256.64 313.00,257.09 313.30,256.56 313.60,257.12 313.90,256.69" fill="none" stroke="#222" stroke-width="0.85" stroke-linejoin="round"/>
<polygon points="244.00,257.30 245.20,240.00 246.30,229.00 247.20,226.30 248.30,230.00 249.30,238.00 250.30,250.00 251.00,257.30" fill="url(#tg)" stroke="#1e1e1e" stroke-width="1.1" stroke-linejoin="round"/>
<polygon points="217.60,257.30 218.50,246.00 219.30,225.00 220.20,195.00 221.00,175.00 221.60,167.40 222.20,176.00 222.90,198.00 223.60,222.00 224.40,244.00 225.40,257.30" fill="#262626" stroke="#1e1e1e" stroke-width="0.8" stroke-linejoin="round"/>
<polygon points="220.30,257.30 221.20,226.00 222.20,257.30" fill="#e8e8e8"/>
<rect x="53.6" y="153.7" width="261" height="103.6" fill="none" stroke="#333333" stroke-width="1.1"/>
<path d="M53.6 257.3v-3.1M53.6 153.7v3.1M94.38 257.3v-3.1M94.38 153.7v3.1M135.16 257.3v-3.1M135.16 153.7v3.1M175.94 257.3v-3.1M175.94 153.7v3.1M216.72 257.3v-3.1M216.72 153.7v3.1M257.51 257.3v-3.1M257.51 153.7v3.1M298.29 257.3v-3.1M298.29 153.7v3.1M53.6 257.3h3.1M314.6 257.3h-3.1M53.6 231.4h3.1M314.6 231.4h-3.1M53.6 205.5h3.1M314.6 205.5h-3.1M53.6 179.6h3.1M314.6 179.6h-3.1M53.6 153.7h3.1M314.6 153.7h-3.1" stroke="#333333" stroke-width="1" fill="none"/>
<text x="53.60" y="273.90" font-size="11.80" fill="#262626" stroke="#262626" stroke-width="0.2" text-anchor="middle">0</text>
<text x="94.38" y="273.90" font-size="11.80" fill="#262626" stroke="#262626" stroke-width="0.2" text-anchor="middle">0.5</text>
<text x="135.16" y="273.90" font-size="11.80" fill="#262626" stroke="#262626" stroke-width="0.2" text-anchor="middle">1</text>
<text x="175.94" y="273.90" font-size="11.80" fill="#262626" stroke="#262626" stroke-width="0.2" text-anchor="middle">1.5</text>
<text x="216.72" y="273.90" font-size="11.80" fill="#262626" stroke="#262626" stroke-width="0.2" text-anchor="middle">2</text>
<text x="257.51" y="273.90" font-size="11.80" fill="#262626" stroke="#262626" stroke-width="0.2" text-anchor="middle">2.5</text>
<text x="298.29" y="273.90" font-size="11.80" fill="#262626" stroke="#262626" stroke-width="0.2" text-anchor="middle">3</text>
<text x="49.00" y="262.70" font-size="11.80" fill="#262626" stroke="#262626" stroke-width="0.2" text-anchor="end">0</text>
<text x="49.00" y="236.80" font-size="11.80" fill="#262626" stroke="#262626" stroke-width="0.2" text-anchor="end">0.005</text>
<text x="49.00" y="210.90" font-size="11.80" fill="#262626" stroke="#262626" stroke-width="0.2" text-anchor="end">0.01</text>
<text x="49.00" y="185.00" font-size="11.80" fill="#262626" stroke="#262626" stroke-width="0.2" text-anchor="end">0.015</text>
<text x="49.00" y="159.10" font-size="11.80" fill="#262626" stroke="#262626" stroke-width="0.2" text-anchor="end">0.02</text>
<text x="286.10" y="291.30" font-size="12.51" fill="#262626" stroke="#262626" stroke-width="0.2">×</text>
<text x="295.40" y="290.40" font-size="11.80" fill="#262626" stroke="#262626" stroke-width="0.2">10</text>
<text x="307.80" y="285.00" font-size="10.00" fill="#262626" stroke="#262626" stroke-width="0.2">4</text>
<polyline points="54.10,407.19 54.40,407.32 54.70,407.00 55.00,407.41 55.30,407.05 55.60,407.45 55.90,407.00 56.20,407.42 56.50,406.94 56.80,407.35 57.10,406.96 57.40,407.30 57.70,407.08 58.00,407.49 58.30,407.09 58.60,407.46 58.90,407.10 59.20,407.49 59.50,406.98 59.80,407.30 60.10,406.99 60.40,407.28 60.70,406.86 61.00,407.48 61.30,406.93 61.60,407.40 61.90,407.05 62.20,407.26 62.50,407.00 62.80,407.36 63.10,406.88 63.40,407.26 63.70,406.86 64.00,407.40 64.30,406.92 64.60,407.46 64.90,406.75 65.20,407.23 65.50,406.96 65.80,407.49 66.10,406.94 66.40,407.40 66.70,406.73 67.00,407.24 67.30,406.73 67.60,407.49 67.90,406.74 68.20,407.29 68.50,406.77 68.80,407.21 69.10,406.96 69.40,407.46 69.70,406.71 70.00,407.21 70.30,406.72 70.60,407.41 70.90,406.74 71.20,407.26 71.50,406.91 71.80,407.40 72.10,406.84 72.40,407.46 72.70,406.75 73.00,407.44 73.30,406.83 73.60,407.45 73.90,406.65 74.20,407.50 74.50,406.62 74.80,407.43 75.10,406.87 75.40,407.15 75.70,406.72 76.00,407.11 76.30,406.31 76.60,407.09 76.90,406.59 77.20,407.27 77.50,406.54 77.80,406.99 78.10,405.98 78.40,407.13 78.70,406.14 79.00,407.29 79.30,405.77 79.60,407.18 79.90,405.81 80.20,407.40 80.50,406.11 80.80,407.46 81.10,405.70 81.40,407.10 81.70,406.15 82.00,406.87 82.30,406.04 82.60,407.20 82.90,406.12 83.20,407.30 83.50,405.53 83.80,407.25 84.10,406.08 84.40,407.13 84.70,405.94 85.00,406.82 85.30,406.11 85.60,406.76 85.90,406.14 86.20,406.82 86.50,405.60 86.80,407.34 87.10,405.75 87.40,407.28 87.70,405.93 88.00,407.34 88.30,405.82 88.60,406.72 88.90,405.23 89.20,406.76 89.50,406.04 89.80,407.27 90.10,405.32 90.40,407.46 90.70,405.61 91.00,407.29 91.30,405.55 91.60,407.49 91.90,405.83 92.20,407.29 92.50,406.42 92.80,407.50 93.10,406.11 93.40,407.24 93.70,406.60 94.00,407.31 94.30,406.36 94.60,407.42 94.90,406.65 95.20,407.45 95.50,406.83 95.80,407.23 96.10,406.62 96.40,407.43 96.70,406.87 97.00,407.47 97.30,406.66 97.60,407.33 97.90,406.79 98.20,407.43 98.50,406.66 98.80,407.25 99.10,406.58 99.40,407.30 99.70,406.82 100.00,407.48 100.30,406.61 100.60,407.36 100.90,406.61 101.20,407.48 101.50,406.58 101.80,407.38 102.10,406.56 102.40,407.20 102.70,406.70 103.00,407.49 103.30,406.54 103.60,407.33 103.90,406.55 104.20,407.41 104.50,406.83 104.80,407.21 105.10,406.75 105.40,407.44 105.70,406.75 106.00,407.29 106.30,406.90 106.60,407.32 106.90,406.72 107.20,407.32 107.50,406.85 107.80,407.25 108.10,406.57 108.40,407.20 108.70,406.77 109.00,407.25 109.30,406.75 109.60,407.24 109.90,406.88 110.20,407.19 110.50,406.52 110.80,407.33 111.10,406.69 111.40,407.31 111.70,406.69 112.00,407.49 112.30,406.51 112.60,407.42 112.90,406.83 113.20,407.46 113.50,406.80 113.80,407.21 114.10,406.89 114.40,407.47 114.70,406.62 115.00,407.43 115.30,406.89 115.60,407.29 115.90,406.67 116.20,407.32 116.50,406.62 116.80,407.46 117.10,406.55 117.40,407.25 117.70,406.88 118.00,407.46 118.30,406.70 118.60,407.32 118.90,406.79 119.20,407.46 119.50,406.74 119.80,407.45 120.10,406.66 120.40,407.20 120.70,406.84 121.00,407.30 121.30,406.60 121.60,407.44 121.90,406.57 122.20,407.17 122.50,406.74 122.80,407.35 123.10,406.56 123.40,407.32 123.70,406.74 124.00,407.17 124.30,406.59 124.60,407.38 124.90,406.80 125.20,407.35 125.50,406.25 125.80,406.82 126.10,405.32 126.40,406.63 126.70,404.62 127.00,406.47 127.30,405.10 127.60,406.73 127.90,402.98 127.85,405.20 127.90,402.90 127.95,405.20 128.20,406.32 128.50,405.66 128.80,407.26 129.10,406.65 129.40,407.37 129.70,406.69 130.00,407.48 130.30,406.73 130.60,407.32 130.90,406.89 131.20,407.45 131.50,406.51 131.80,407.23 132.10,406.47 132.40,407.23 132.70,406.20 133.00,407.01 133.30,405.83 133.60,407.48 133.90,405.70 134.20,407.29 134.50,405.37 134.80,407.28 135.10,405.90 135.40,406.97 135.70,406.38 136.00,407.41 136.30,406.61 136.60,407.32 136.90,406.20 137.20,407.36 137.50,406.39 137.80,407.13 138.10,406.37 138.40,407.11 138.70,405.57 139.00,407.13 139.30,405.96 139.60,407.13 139.90,405.55 140.20,407.37 140.50,405.81 140.80,407.38 141.10,405.48 141.40,407.08 141.70,405.35 142.00,407.24 142.30,405.54 142.60,406.90 142.90,404.55 143.20,406.82 143.50,404.84 143.80,406.76 144.10,405.27 144.40,406.68 144.70,404.87 145.00,406.85 145.30,404.61 145.60,406.93 145.90,404.97 145.95,405.75 146.00,404.00 146.05,405.75 146.20,407.20 146.50,405.09 146.80,406.87 147.10,404.86 147.40,406.78 147.70,405.38 148.00,407.07 148.30,404.19 148.60,407.21 148.90,404.62 149.20,406.90 149.50,405.00 149.80,406.29 150.10,404.95 150.40,406.50 150.70,404.95 151.00,407.41 151.30,403.56 151.60,406.84 151.90,404.72 152.20,406.88 152.50,403.81 152.80,406.24 153.10,404.27 153.40,407.10 153.70,402.48 154.00,406.17 154.30,404.07 154.60,406.88 154.90,403.59 155.20,406.24 155.50,402.97 155.80,405.89 156.10,402.45 156.40,406.51 156.70,402.55 157.00,406.05 157.30,402.43 157.60,406.56 157.90,402.29 158.20,406.08 158.50,401.91 158.80,407.24 159.10,401.93 159.40,407.49 159.70,402.10 160.00,406.27 160.30,402.66 160.60,405.44 160.90,402.39 161.20,406.59 161.50,401.76 161.80,405.56 162.10,402.11 162.40,406.64 162.70,402.41 163.00,406.45 163.30,401.61 163.60,406.81 163.90,402.40 164.20,406.18 164.50,402.33 164.80,406.72 165.10,401.12 165.40,405.41 165.70,401.83 166.00,406.39 166.25,403.90 166.30,400.30 166.35,403.90 166.30,402.65 166.60,406.74 166.90,402.85 167.20,406.09 167.50,401.73 167.80,407.29 168.10,400.92 168.40,406.74 168.70,401.25 169.00,405.56 169.30,401.07 169.60,407.04 169.90,402.57 170.20,405.48 170.50,403.71 170.80,407.40 171.10,402.43 171.40,406.44 171.70,401.69 172.00,405.56 172.30,400.72 172.60,404.19 172.90,398.91 173.20,405.36 173.50,393.78 173.80,404.83 174.10,390.04 174.40,401.80 174.70,384.32 174.75,391.20 174.80,374.90 174.85,391.20 175.00,397.93 175.30,387.32 175.60,404.28 175.90,399.90 176.20,406.05 176.50,397.94 176.80,404.73 177.10,394.50 177.40,402.20 177.70,389.01 178.00,404.04 178.30,390.54 178.55,395.80 178.60,384.10 178.65,395.80 178.60,402.38 178.90,387.43 179.20,405.48 179.50,396.54 179.80,404.59 180.10,401.70 180.40,406.31 180.70,394.87 181.00,403.23 181.30,393.98 181.60,406.77 181.65,397.75 181.70,388.00 181.75,397.75 181.90,389.41 182.20,403.16 182.50,391.68 182.80,401.91 183.10,392.97 183.40,405.41 183.70,398.77 184.00,406.27 184.30,398.55 184.60,405.72 184.90,401.38 185.20,406.99 185.50,401.54 185.80,405.73 186.10,400.27 186.40,403.63 186.70,396.82 187.00,407.29 187.30,395.84 187.60,402.92 187.90,394.49 188.20,403.00 188.50,395.93 188.80,405.38 189.10,388.31 189.35,396.95 189.40,386.40 189.45,396.95 189.40,403.17 189.70,391.66 190.00,406.44 190.30,397.43 190.60,405.61 190.90,402.59 191.20,405.98 191.50,401.19 191.80,404.42 192.10,399.31 192.40,405.93 192.70,399.73 193.00,406.78 193.30,394.76 193.60,406.94 193.90,397.48 194.20,406.52 194.50,393.57 194.75,398.50 194.80,389.50 194.85,398.50 194.80,402.31 195.10,394.08 195.40,403.61 195.70,400.22 196.00,407.46 196.30,400.77 196.60,406.77 196.90,400.51 197.20,406.35 197.50,400.34 197.80,406.37 198.10,398.82 198.40,402.76 198.65,399.30 198.70,391.10 198.75,399.30 198.70,393.84 199.00,405.55 199.30,395.43 199.60,405.47 199.90,398.45 200.20,403.11 200.50,397.60 200.80,404.26 201.10,401.73 201.40,406.37 201.70,405.40 202.00,407.44 202.30,403.05 202.60,405.90 202.90,403.04 203.20,405.32 203.25,403.90 203.30,400.30 203.35,403.90 203.50,401.10 203.80,406.81 204.10,402.42 204.40,405.62 204.70,403.38 205.00,405.93 205.30,404.51 205.60,406.94 205.90,403.48 206.20,407.12 206.50,403.64 206.80,405.74 207.10,402.63 207.40,405.69 207.70,402.66 208.00,407.06 208.30,402.00 208.60,407.01 208.90,399.90 209.20,406.70 209.50,400.92 209.80,407.17 210.10,400.78 210.40,406.37 210.70,400.99 210.95,403.15 211.00,398.80 211.05,403.15 211.00,407.30 211.30,402.33 211.60,405.41 211.90,402.70 212.20,407.01 212.50,404.12 212.80,406.85 213.10,401.84 213.40,407.38 213.70,397.72 214.00,405.96 214.05,400.80 214.10,394.10 214.15,400.80 214.30,399.14 214.60,404.67 214.90,400.95 215.20,406.64 215.50,400.08 215.80,407.20 216.10,402.28 216.40,404.91 216.70,397.35 217.00,406.77 217.30,396.16 217.60,403.09 217.90,392.80 217.95,397.35 218.00,387.20 218.05,397.35 218.20,400.86 218.50,394.52 218.80,401.44 219.10,393.51 219.40,406.17 219.70,395.77 220.00,406.91 220.30,397.92 220.60,406.70 220.90,401.08 221.20,406.27 221.50,403.02 221.80,406.98 222.10,402.44 222.40,407.05 222.70,401.81 223.00,407.24 223.30,402.67 223.60,406.30 223.90,402.40 224.20,405.31 224.50,400.71 224.80,405.22 225.10,398.57 225.40,406.23 225.65,401.20 225.70,394.90 225.75,401.20 225.70,397.97 226.00,407.16 226.30,400.75 226.60,404.88 226.90,402.01 227.20,406.05 227.50,404.28 227.80,406.49 228.10,403.55 228.40,406.55 228.70,403.47 229.00,407.37 229.30,403.23 229.60,406.96 229.90,401.62 230.20,404.66 230.50,397.82 230.80,405.26 231.10,390.03 231.40,401.96 231.70,385.88 231.85,395.40 231.90,383.30 231.95,395.40 232.00,400.58 232.30,394.91 232.60,405.99 232.90,400.21 233.20,405.54 233.50,401.77 233.80,406.76 234.10,403.31 234.40,406.37 234.70,403.69 235.00,407.17 235.30,404.51 235.60,407.07 235.90,403.89 236.20,407.18 236.50,403.80 236.80,405.43 237.10,401.05 237.40,405.52 237.70,402.14 238.00,407.37 238.30,401.32 238.60,406.83 238.90,400.36 239.20,406.14 239.50,401.04 239.80,406.32 240.10,398.01 240.40,406.78 240.70,396.55 240.75,401.60 240.80,395.70 240.85,401.60 241.00,405.35 241.30,399.34 241.60,406.82 241.90,402.79 242.20,406.42 242.50,403.50 242.80,407.50 243.10,398.50 243.40,404.31 243.70,397.59 244.00,407.26 244.30,390.46 244.35,398.10 244.40,388.70 244.45,398.10 244.60,403.77 244.90,397.78 245.20,406.31 245.50,399.77 245.80,403.61 246.10,396.50 246.40,401.70 246.45,398.10 246.50,388.70 246.55,398.10 246.70,391.94 247.00,407.05 247.30,396.29 247.60,406.05 247.90,399.59 248.20,405.12 248.50,402.09 248.80,407.28 249.10,401.24 249.40,406.55 249.70,400.06 250.00,405.35 250.30,398.43 250.60,404.20 250.90,396.77 251.20,405.16 251.50,396.99 251.80,402.84 252.10,391.14 252.40,403.31 252.70,382.72 253.00,406.26 253.15,392.95 253.20,378.40 253.25,392.95 253.30,381.75 253.60,407.09 253.90,385.81 254.20,401.10 254.50,392.86 254.80,403.88 255.10,390.58 255.40,404.08 255.70,396.41 256.00,406.47 256.30,401.26 256.60,406.23 256.90,399.65 257.20,406.77 257.50,399.88 257.80,406.99 258.10,397.98 258.40,404.94 258.55,402.00 258.60,396.50 258.65,402.00 258.70,400.22 259.00,406.75 259.30,401.64 259.60,406.62 259.90,403.54 260.20,407.02 260.50,402.64 260.80,404.54 261.10,399.37 261.40,404.51 261.65,398.50 261.70,389.50 261.75,398.50 261.70,394.30 262.00,402.82 262.30,395.37 262.60,403.99 262.90,399.75 263.20,405.17 263.50,398.82 263.80,405.78 264.10,397.52 264.40,404.20 264.70,399.95 264.75,401.60 264.80,395.70 264.85,401.60 265.00,406.34 265.30,399.37 265.60,406.75 265.90,401.34 266.20,406.58 266.50,400.78 266.80,404.41 267.10,395.61 267.40,406.79 267.70,392.45 268.00,403.68 268.05,395.40 268.10,383.30 268.15,395.40 268.30,390.48 268.60,406.28 268.90,395.72 269.20,407.44 269.50,390.77 269.80,402.79 270.10,395.39 270.40,402.41 270.70,386.22 271.00,403.04 271.15,395.80 271.20,384.10 271.25,395.80 271.30,393.17 271.60,404.27 271.90,395.52 272.20,406.70 272.50,400.39 272.80,407.48 273.10,399.66 273.40,405.74 273.70,401.12 274.00,405.14 274.30,401.80 274.60,406.97 274.90,403.69 275.20,407.26 275.50,404.88 275.80,406.47 276.10,404.40 276.40,407.20 276.70,405.90 277.00,407.07 277.30,406.15 277.60,407.19 277.90,407.17 278.20,407.36 278.50,407.03 278.80,407.37 279.10,407.13 279.40,407.47 279.70,407.03 280.00,407.44 280.30,407.13 280.60,407.40 280.90,407.13 281.20,407.35 281.50,407.15 281.80,407.49 282.10,407.09 282.40,407.39 282.70,407.04 283.00,407.38 283.30,407.02 283.60,407.33 283.90,407.10 284.20,407.41 284.50,407.17 284.80,407.45 285.10,407.08 285.40,407.49 285.70,407.06 286.00,407.47 286.30,407.11 286.60,407.33 286.90,407.18 287.20,407.49 287.50,407.11 287.80,407.47 288.10,407.06 288.40,407.50 288.70,407.03 289.00,407.35 289.30,407.04 289.60,407.43 289.90,407.14 290.20,407.38 290.50,407.10 290.80,407.43 291.10,407.13 291.40,407.42 291.70,407.07 292.00,407.36 292.30,407.02 292.60,407.47 292.90,407.14 293.20,407.42 293.50,407.09 293.80,407.44 294.10,407.16 294.40,407.49 294.70,407.14 295.00,407.42 295.30,407.01 295.60,407.34 295.90,407.03 296.20,407.33 296.50,407.01 296.80,407.39 297.10,407.04 297.40,407.49 297.70,407.06 298.00,407.39 298.30,407.03 298.60,407.34 298.90,406.57 299.20,407.31 299.50,406.43 299.80,407.35 300.10,406.36 300.40,406.97 300.70,406.37 301.00,407.37 301.30,405.95 301.60,407.26 301.90,406.66 302.20,407.25 302.50,406.84 302.80,407.37 303.10,407.12 303.40,407.41 303.70,407.09 304.00,407.43 304.30,407.18 304.60,407.47 304.90,407.02 305.20,407.40 305.50,407.18 305.80,407.35 306.10,407.15 306.40,407.48 306.70,407.09 307.00,407.46 307.30,407.10 307.60,407.40 307.90,407.15 308.20,407.40 308.50,407.18 308.80,407.41 309.10,407.08 309.40,407.49 309.70,407.12 310.00,407.49 310.30,407.11 310.60,407.35 310.90,407.09 311.20,407.37 311.50,407.05 311.80,407.48 312.10,407.00 312.40,407.37 312.70,407.18 313.00,407.35 313.30,407.12 313.60,407.47 313.90,407.01" fill="none" stroke="#222" stroke-width="0.85" stroke-linejoin="round"/>
<rect x="53.6" y="305.2" width="261" height="102.3" fill="none" stroke="#333333" stroke-width="1.1"/>
<path d="M53.6 407.5v-3.1M53.6 305.2v3.1M94.38 407.5v-3.1M94.38 305.2v3.1M135.16 407.5v-3.1M135.16 305.2v3.1M175.94 407.5v-3.1M175.94 305.2v3.1M216.72 407.5v-3.1M216.72 305.2v3.1M257.51 407.5v-3.1M257.51 305.2v3.1M298.29 407.5v-3.1M298.29 305.2v3.1M53.6 407.5h3.1M314.6 407.5h-3.1M53.6 381.93h3.1M314.6 381.93h-3.1M53.6 356.35h3.1M314.6 356.35h-3.1M53.6 330.77h3.1M314.6 330.77h-3.1M53.6 305.2h3.1M314.6 305.2h-3.1" stroke="#333333" stroke-width="1" fill="none"/>
<text x="53.60" y="424.10" font-size="11.80" fill="#262626" stroke="#262626" stroke-width="0.2" text-anchor="middle">0</text>
<text x="94.38" y="424.10" font-size="11.80" fill="#262626" stroke="#262626" stroke-width="0.2" text-anchor="middle">0.5</text>
<text x="135.16" y="424.10" font-size="11.80" fill="#262626" stroke="#262626" stroke-width="0.2" text-anchor="middle">1</text>
<text x="175.94" y="424.10" font-size="11.80" fill="#262626" stroke="#262626" stroke-width="0.2" text-anchor="middle">1.5</text>
<text x="216.72" y="424.10" font-size="11.80" fill="#262626" stroke="#262626" stroke-width="0.2" text-anchor="middle">2</text>
<text x="257.51" y="424.10" font-size="11.80" fill="#262626" stroke="#262626" stroke-width="0.2" text-anchor="middle">2.5</text>
<text x="298.29" y="424.10" font-size="11.80" fill="#262626" stroke="#262626" stroke-width="0.2" text-anchor="middle">3</text>
<text x="49.00" y="412.90" font-size="11.80" fill="#262626" stroke="#262626" stroke-width="0.2" text-anchor="end">0</text>
<text x="49.00" y="387.32" font-size="11.80" fill="#262626" stroke="#262626" stroke-width="0.2" text-anchor="end">0.005</text>
<text x="49.00" y="361.75" font-size="11.80" fill="#262626" stroke="#262626" stroke-width="0.2" text-anchor="end">0.01</text>
<text x="49.00" y="336.17" font-size="11.80" fill="#262626" stroke="#262626" stroke-width="0.2" text-anchor="end">0.015</text>
<text x="49.00" y="310.60" font-size="11.80" fill="#262626" stroke="#262626" stroke-width="0.2" text-anchor="end">0.02</text>
<text x="286.10" y="441.50" font-size="12.51" fill="#262626" stroke="#262626" stroke-width="0.2">×</text>
<text x="295.40" y="440.60" font-size="11.80" fill="#262626" stroke="#262626" stroke-width="0.2">10</text>
<text x="307.80" y="435.20" font-size="10.00" fill="#262626" stroke="#262626" stroke-width="0.2">4</text>
<polyline points="386.70,76.00 386.82,75.49 386.99,74.83 387.18,74.04 387.40,73.15 387.63,72.21 387.86,71.24 388.09,70.28 388.31,69.35 388.50,68.50 388.76,67.28 389.00,66.06 389.23,64.84 389.46,63.67 389.68,62.55 389.90,61.50 390.11,60.61 390.29,59.87 390.47,59.19 390.67,58.46 390.90,57.60 391.20,56.50 391.36,55.89 391.54,55.21 391.73,54.48 391.93,53.71 392.14,52.90 392.36,52.08 392.58,51.23 392.81,50.39 393.03,49.56 393.26,48.74 393.48,47.95 393.69,47.20 393.90,46.50 394.10,45.83 394.30,45.18 394.49,44.55 394.67,43.93 394.86,43.32 395.05,42.73 395.24,42.15 395.43,41.59 395.63,41.04 395.83,40.51 396.05,39.99 396.27,39.49 396.50,39.00 396.68,38.66 396.86,38.33 397.04,38.01 397.23,37.69 397.43,37.39 397.63,37.10 397.83,36.81 398.03,36.53 398.24,36.26 398.45,35.99 398.65,35.73 398.86,35.47 399.07,35.22 399.28,34.97 399.49,34.72 399.69,34.48 399.90,34.24 400.10,34.00 400.31,33.75 400.52,33.51 400.74,33.28 400.95,33.05 401.16,32.84 401.37,32.62 401.58,32.41 401.79,32.21 402.01,32.01 402.22,31.81 402.43,31.61 402.64,31.41 402.85,31.21 403.06,31.01 403.28,30.81 403.49,30.61 403.70,30.40 403.90,30.21 404.10,30.03 404.30,29.85 404.50,29.69 404.70,29.52 404.90,29.36 405.10,29.20 405.30,29.04 405.50,28.88 405.70,28.70 405.90,28.53 406.10,28.34 406.30,28.14 406.50,27.92 406.70,27.70 406.90,27.45 407.10,27.19 407.30,26.90 407.51,26.57 407.72,26.23 407.94,25.86 408.15,25.48 408.36,25.08 408.57,24.67 408.79,24.24 409.00,23.81 409.21,23.36 409.42,22.91 409.64,22.46 409.85,22.00 410.06,21.53 410.27,21.07 410.48,20.61 410.69,20.15 410.90,19.70 411.11,19.25 411.32,18.78 411.52,18.31 411.73,17.83 411.93,17.35 412.14,16.87 412.34,16.38 412.55,15.89 412.75,15.40 412.96,14.91 413.16,14.42 413.37,13.94 413.57,13.46 413.78,12.98 413.98,12.51 414.19,12.05 414.40,11.60 414.60,11.17 414.81,10.74 415.02,10.30 415.23,9.85 415.44,9.40 415.66,8.96 415.88,8.51 416.09,8.07 416.31,7.64 416.52,7.22 416.73,6.82 416.93,6.42 417.13,6.05 417.32,5.69 417.50,5.35 417.68,5.04 417.84,4.76 418.00,4.50 418.27,4.06 418.50,3.71 418.70,3.44 418.87,3.24 419.04,3.09 419.20,2.99 419.37,2.93 419.57,2.91 419.80,2.90 419.98,2.90 420.16,2.91 420.34,2.92 420.53,2.95 420.73,2.99 420.93,3.06 421.14,3.15 421.36,3.27 421.57,3.43 421.80,3.63 422.03,3.87 422.26,4.16 422.50,4.50 422.68,4.78 422.86,5.10 423.05,5.44 423.24,5.81 423.43,6.21 423.63,6.62 423.83,7.06 424.04,7.51 424.24,7.98 424.45,8.46 424.66,8.96 424.87,9.46 425.07,9.96 425.28,10.47 425.49,10.98 425.70,11.49 425.90,12.00 426.10,12.50 426.31,13.04 426.52,13.59 426.74,14.16 426.95,14.74 427.16,15.33 427.37,15.93 427.58,16.54 427.79,17.14 428.01,17.76 428.22,18.36 428.43,18.97 428.64,19.57 428.85,20.16 429.06,20.74 429.28,21.31 429.49,21.86 429.70,22.40 429.90,22.90 430.10,23.40 430.30,23.89 430.50,24.39 430.70,24.88 430.90,25.37 431.10,25.85 431.31,26.33 431.51,26.79 431.71,27.25 431.91,27.70 432.11,28.13 432.31,28.55 432.51,28.95 432.71,29.34 432.90,29.71 433.10,30.07 433.30,30.40 433.51,30.73 433.72,31.04 433.92,31.33 434.13,31.59 434.33,31.85 434.54,32.08 434.74,32.30 434.95,32.51 435.15,32.70 435.36,32.89 435.56,33.06 435.77,33.23 435.97,33.39 436.18,33.55 436.38,33.70 436.59,33.85 436.80,34.00 437.01,34.14 437.22,34.28 437.43,34.40 437.64,34.51 437.85,34.61 438.06,34.71 438.28,34.80 438.49,34.88 438.70,34.96 438.91,35.03 439.13,35.10 439.34,35.17 439.55,35.23 439.76,35.30 439.98,35.36 440.19,35.43 440.40,35.50 440.60,35.56 440.80,35.61 441.00,35.66 441.19,35.70 441.39,35.73 441.59,35.77 441.78,35.80 441.98,35.83 442.17,35.86 442.37,35.89 442.57,35.93 442.77,35.97 442.97,36.01 443.17,36.07 443.38,36.14 443.58,36.21 443.79,36.30 444.00,36.40 444.19,36.50 444.38,36.61 444.58,36.72 444.77,36.84 444.97,36.96 445.17,37.09 445.37,37.23 445.57,37.37 445.77,37.51 445.97,37.66 446.17,37.82 446.37,37.98 446.58,38.14 446.78,38.31 446.98,38.48 447.19,38.66 447.39,38.84 447.59,39.02 447.80,39.21 448.00,39.40 448.20,39.60 448.41,39.80 448.61,40.02 448.82,40.24 449.02,40.46 449.23,40.70 449.43,40.94 449.64,41.18 449.84,41.42 450.05,41.67 450.26,41.92 450.46,42.17 450.67,42.42 450.87,42.67 451.08,42.91 451.28,43.16 451.49,43.40 451.69,43.64 451.90,43.87 452.10,44.10 452.30,44.33 452.51,44.56 452.72,44.79 452.93,45.03 453.14,45.27 453.35,45.51 453.56,45.75 453.77,45.99 453.98,46.22 454.19,46.46 454.39,46.68 454.60,46.91 454.80,47.13 455.00,47.34 455.19,47.54 455.38,47.73 455.57,47.92 455.75,48.09 455.93,48.25 456.10,48.40 456.35,48.61 456.58,48.81 456.80,48.98 457.01,49.14 457.21,49.29 457.40,49.41 457.59,49.52 457.78,49.61 457.97,49.69 458.16,49.74 458.36,49.78 458.58,49.80 458.80,49.80 458.99,49.79 459.18,49.78 459.38,49.76 459.58,49.73 459.78,49.69 459.99,49.64 460.20,49.58 460.41,49.51 460.62,49.41 460.83,49.31 461.04,49.18 461.25,49.03 461.47,48.86 461.68,48.66 461.89,48.45 462.10,48.20 462.31,47.92 462.52,47.61 462.73,47.26 462.95,46.88 463.16,46.48 463.37,46.06 463.59,45.62 463.80,45.17 464.01,44.71 464.23,44.24 464.44,43.76 464.65,43.29 464.87,42.83 465.08,42.37 465.29,41.93 465.50,41.50 465.71,41.08 465.92,40.65 466.12,40.21 466.33,39.77 466.54,39.33 466.74,38.88 466.95,38.44 467.15,38.00 467.35,37.57 467.56,37.14 467.76,36.72 467.97,36.31 468.18,35.91 468.38,35.52 468.59,35.15 468.80,34.80 469.01,34.46 469.23,34.12 469.46,33.78 469.69,33.45 469.93,33.13 470.16,32.81 470.39,32.51 470.63,32.22 470.85,31.94 471.07,31.68 471.29,31.43 471.50,31.20 471.69,30.99 471.87,30.81 472.04,30.64 472.20,30.50 472.53,30.24 472.76,30.11 472.94,30.12 473.09,30.23 473.27,30.43 473.50,30.70 473.67,30.88 473.84,31.08 474.03,31.30 474.22,31.54 474.41,31.83 474.62,32.15 474.83,32.54 475.04,32.98 475.27,33.50 475.50,34.10 475.68,34.62 475.88,35.21 476.08,35.85 476.28,36.53 476.49,37.25 476.70,38.00 476.91,38.78 477.13,39.57 477.35,40.37 477.56,41.17 477.78,41.96 477.99,42.74 478.20,43.50 478.41,44.26 478.62,45.04 478.82,45.83 479.03,46.64 479.24,47.45 479.45,48.26 479.65,49.07 479.86,49.87 480.07,50.65 480.28,51.41 480.48,52.14 480.69,52.84 480.90,53.50 481.11,54.14 481.32,54.76 481.52,55.36 481.73,55.95 481.94,56.51 482.15,57.06 482.35,57.58 482.56,58.09 482.77,58.56 482.98,59.02 483.18,59.44 483.39,59.83 483.60,60.20 483.81,60.54 484.02,60.87 484.23,61.17 484.43,61.46 484.64,61.71 484.85,61.95 485.06,62.15 485.27,62.32 485.48,62.45 485.68,62.55 485.89,62.61 486.10,62.63 486.30,62.60 486.52,62.52 486.73,62.39 486.94,62.22 487.14,62.00 487.35,61.74 487.56,61.44 487.77,61.11 487.98,60.73 488.20,60.32 488.42,59.88 488.66,59.40 488.90,58.90 489.08,58.51 489.27,58.08 489.46,57.61 489.66,57.11 489.86,56.59 490.07,56.04 490.28,55.47 490.49,54.90 490.70,54.32 490.91,53.75 491.12,53.18 491.33,52.62 491.53,52.08 491.73,51.56 491.93,51.07 492.12,50.62 492.30,50.20 492.53,49.70 492.76,49.22 492.99,48.77 493.21,48.34 493.42,47.94 493.63,47.56 493.84,47.20 494.04,46.86 494.24,46.55 494.44,46.58 494.63,45.80 494.82,46.01 495.00,45.32 495.23,45.42 495.44,44.83 495.65,45.12 495.85,44.40 496.04,44.87 496.23,44.26 496.42,44.62 496.61,44.17 496.80,44.61 497.00,44.04 497.20,44.56 497.39,44.05 497.58,44.61 497.77,44.20 497.96,44.86 498.15,44.45 498.35,45.19 498.56,44.74 498.77,45.47 499.00,45.30 499.18,46.03 499.38,45.77 499.58,46.54 499.78,46.62 499.99,46.95 500.20,47.31 500.41,47.69 500.63,48.08 500.85,48.49 501.06,48.91 501.28,49.33 501.49,49.76 501.70,50.20 501.91,50.65 502.12,51.12 502.33,51.61 502.53,52.11 502.74,52.63 502.95,53.16 503.16,53.69 503.37,54.23 503.58,54.77 503.78,55.31 503.99,55.85 504.20,56.38 504.40,56.90 504.60,57.42 504.80,57.94 505.00,58.46 505.20,58.98 505.40,59.51 505.60,60.03 505.80,60.55 506.00,61.07 506.20,61.59 506.40,62.10 506.60,62.61 506.80,63.11 507.00,63.60 507.20,64.09 507.41,64.59 507.62,65.09 507.83,65.59 508.04,66.08 508.25,66.57 508.45,67.05 508.66,67.52 508.87,67.98 509.08,68.41 509.29,68.83 509.50,69.23 509.70,69.60 509.92,69.97 510.13,70.31 510.34,70.61 510.54,70.90 510.75,71.17 510.96,71.42 511.17,71.66 511.38,71.90 511.60,72.14 511.82,72.38 512.06,72.63 512.30,72.90 512.48,73.10 512.67,73.30 512.87,73.50 513.07,73.70 513.27,73.91 513.49,74.11 513.70,74.32 513.91,74.52 514.13,74.72 514.34,74.92 514.55,75.12 514.76,75.31 514.96,75.50 515.16,75.69 515.35,75.86 515.53,76.04 515.70,76.20 515.95,76.44 516.18,76.67 516.39,76.88 516.59,77.08 516.78,77.27 516.97,77.46 517.16,77.64 517.35,77.82 517.55,78.00 517.77,78.17 518.00,78.35 518.18,78.48 518.37,78.60 518.56,78.71 518.75,78.82 518.95,78.93 519.15,79.03 519.36,79.13 519.57,79.24 519.77,79.35 519.98,79.46 520.19,79.58 520.40,79.71 520.60,79.85 520.80,79.99 521.00,80.15 521.21,80.33 521.42,80.51 521.63,80.70 521.84,80.90 522.04,81.10 522.25,81.31 522.46,81.53 522.66,81.75 522.87,81.98 523.07,82.23 523.28,82.48 523.49,82.74 523.69,83.01 523.90,83.30 524.11,83.60 524.32,83.91 524.53,84.24 524.75,84.58 524.96,84.93 525.17,85.29 525.39,85.65 525.60,86.03 525.81,86.40 526.02,86.78 526.22,86.92 526.42,87.73 526.61,87.55 526.80,88.52 527.03,88.33 527.26,89.79 527.48,89.34 527.70,90.90 527.91,90.30 528.12,92.12 528.33,91.40 528.53,93.10 528.72,92.39 528.91,94.39 529.10,93.27 529.35,95.91 529.59,93.71 529.82,97.26 530.05,94.01 530.27,99.19 530.48,93.75 530.69,100.40 530.90,93.65 531.13,101.34 531.36,92.67 531.58,101.29 531.80,93.70 532.01,104.00 532.21,94.17 532.40,105.25 532.64,94.61 532.85,102.99 533.05,96.03 533.26,105.75 533.50,94.06 533.69,104.62 533.90,95.65 534.12,103.84 534.34,95.53 534.57,104.35 534.79,97.69 535.00,102.33 535.24,96.69 535.47,101.77 535.70,97.78 535.93,101.34 536.16,98.85 536.40,100.87 536.61,97.42 536.82,100.24 537.04,96.86 537.25,99.67 537.47,96.61 537.68,98.65 537.90,96.63 538.11,98.06 538.33,95.70 538.54,97.52 538.76,95.91 538.97,97.36 539.19,94.93 539.40,96.89 539.61,94.39 539.81,95.83 540.01,93.75 540.21,94.96 540.42,92.88 540.65,93.70 540.90,92.17 541.07,92.75 541.25,91.55 541.44,92.08 541.64,90.70 541.84,91.33 542.05,90.23 542.26,90.41 542.47,89.84 542.68,89.54 542.89,89.26 543.10,89.00 543.31,88.75 543.54,88.52 543.77,88.29 544.00,88.07 544.24,87.87 544.47,87.68 544.70,87.51 544.92,87.35 545.13,87.21 545.32,87.10 545.50,87.00 545.77,86.88 545.98,86.83 546.16,86.83 546.34,86.89 546.54,87.00 546.80,87.15 546.96,87.24 547.14,87.32 547.32,87.41 547.50,87.51 547.70,87.63 547.90,87.77 548.11,87.93 548.33,88.13 548.55,88.37 548.77,88.66 549.00,89.00 549.19,89.31 549.38,89.66 549.57,90.03 549.77,90.44 549.98,90.88 550.19,91.33 550.40,91.80 550.61,92.29 550.83,92.78 551.04,93.28 551.26,93.78 551.47,94.28 551.69,94.77 551.90,95.25 552.10,95.70 552.30,96.18 552.51,96.66 552.71,97.16 552.92,97.67 553.13,98.18 553.34,98.69 553.55,99.19 553.75,99.69 553.96,100.17 554.15,100.64 554.35,101.08 554.54,101.50 554.72,101.89 554.90,102.25 555.13,102.70 555.36,103.11 555.59,103.49 555.81,103.83 556.02,104.15 556.22,104.44 556.41,104.69 556.60,104.92 556.78,105.12 556.94,105.30 557.10,105.45 557.38,105.66 557.59,105.72 557.76,105.65 557.95,105.50 558.20,105.30 558.39,105.16 558.59,105.00 558.81,104.81 559.03,104.59 559.26,104.35 559.51,104.07 559.75,103.75 560.00,103.40 560.18,103.14 560.35,102.89 560.53,102.63 560.70,102.37 560.88,102.09 561.06,101.77 561.26,101.41 561.47,101.00 561.69,100.53 561.93,99.98 562.20,99.35 562.36,98.94 562.53,98.48 562.71,97.99 562.89,97.47 563.08,96.92 563.27,96.35 563.46,95.76 563.67,95.15 563.87,94.52 564.08,93.89 564.29,93.26 564.51,92.62 564.73,91.99 564.95,91.37 565.18,90.76 565.40,90.16 565.63,89.58 565.87,89.03 566.10,88.50 566.28,88.11 566.46,87.72 566.65,87.33 566.84,86.94 567.03,86.56 567.23,86.17 567.42,85.79 567.62,85.41 567.82,85.03 568.03,84.66 568.23,84.30 568.43,83.93 568.64,83.58 568.85,83.22 569.05,82.88 569.26,82.54 569.47,82.21 569.68,81.89 569.88,81.58 570.09,81.27 570.29,80.98 570.50,80.69 570.70,80.42 570.90,80.15 571.10,79.90 571.31,79.65 571.51,79.42 571.72,79.21 571.92,79.01 572.13,78.83 572.33,78.66 572.54,78.50 572.74,78.35 572.94,78.21 573.15,78.07 573.35,77.94 573.56,77.82 573.76,77.70 573.96,77.58 574.17,77.46 574.37,77.34 574.57,77.22 574.78,77.09 574.98,76.96 575.18,76.83 575.39,76.69 575.59,76.53 575.80,76.37 576.00,76.20 576.20,76.02 576.40,75.84 576.60,75.65 576.80,75.46 576.99,75.27 577.19,75.08 577.38,74.88 577.57,74.69 577.76,74.49 577.96,74.28 578.15,74.08 578.34,73.88 578.54,73.67 578.74,73.46 578.94,73.25 579.14,73.04 579.35,72.82 579.56,72.61 579.77,72.39 579.98,72.18 580.21,71.96 580.43,71.74 580.66,71.52 580.90,71.30 581.08,71.14 581.26,70.96 581.44,70.79 581.63,70.61 581.82,70.42 582.01,70.23 582.20,70.03 582.40,69.83 582.60,69.63 582.80,69.43 583.01,69.22 583.21,69.02 583.42,68.81 583.63,68.61 583.84,68.40 584.05,68.20 584.25,68.00 584.47,67.80 584.68,67.61 584.89,67.42 585.09,67.24 585.30,67.06 585.51,66.88 585.72,66.71 585.92,66.55 586.13,66.40 586.33,66.26 586.53,66.12 586.73,66.00 586.93,65.88 587.12,65.78 587.31,65.68 587.50,65.60 587.72,65.52 587.94,65.47 588.16,65.44 588.38,65.42 588.60,65.43 588.82,65.45 589.04,65.48 589.25,65.53 589.47,65.59 589.68,65.66 589.90,65.73 590.11,65.81 590.32,65.89 590.53,65.97 590.74,66.06 590.94,66.14 591.15,66.22 591.35,66.29 591.55,66.35 591.74,66.41 591.94,66.45 592.13,66.48 592.31,66.50 592.50,66.50 592.68,66.48 592.86,66.44 593.03,66.38 593.20,66.30 593.46,66.15 593.70,65.99 593.93,65.82 594.16,65.64 594.37,65.44 594.58,65.23 594.78,64.99 594.98,64.73 595.18,64.44 595.37,64.13 595.55,63.78 595.74,63.40 595.93,62.97 596.12,62.51 596.31,62.01 596.50,61.46 596.70,60.85 596.90,60.20 597.11,59.48 597.31,58.70 597.52,57.86 597.72,56.96 597.93,56.02 598.14,55.03 598.34,54.00 598.55,52.94 598.76,51.85 598.96,50.74 599.17,49.62 599.37,48.49 599.58,47.35 599.78,46.21 599.99,45.08 600.19,43.97 600.40,42.87 600.60,41.80 600.80,40.72 601.00,39.61 601.20,38.48 601.40,37.32 601.60,36.15 601.80,34.96 602.00,33.78 602.20,32.59 602.40,31.41 602.60,30.25 602.80,29.10 603.00,27.98 603.20,26.89 603.40,25.84 603.60,24.83 603.80,23.86 604.00,22.95 604.20,22.10 604.40,21.30 604.61,20.53 604.82,19.79 605.04,19.09 605.25,18.42 605.47,17.78 605.69,17.17 605.90,16.59 606.12,16.04 606.33,15.52 606.54,15.03 606.75,14.56 606.96,14.12 607.16,13.71 607.35,13.32 607.54,12.96 607.72,12.62 607.90,12.30 608.15,11.88 608.39,11.55 608.61,11.28 608.82,11.09 609.03,10.95 609.23,10.86 609.42,10.82 609.61,10.83 609.80,10.86 610.00,10.92 610.20,11.00 610.40,11.10 610.60,11.19 610.80,11.26 611.00,11.34 611.19,11.44 611.39,11.57 611.58,11.74 611.78,11.99 611.99,12.31 612.20,12.72 612.42,13.25 612.65,13.91 612.90,14.70 613.07,15.32 613.25,16.02 613.44,16.79 613.62,17.63 613.82,18.52 614.01,19.46 614.22,20.44 614.42,21.45 614.62,22.50 614.83,23.57 615.04,24.65 615.25,25.73 615.46,26.82 615.67,27.90 615.88,28.96 616.09,30.01 616.30,31.02 616.50,32.00 616.70,32.97 616.91,33.96 617.11,34.97 617.32,35.98 617.52,37.01 617.73,38.04 617.93,39.07 618.14,40.10 618.34,41.11 618.55,42.12 618.76,43.10 618.96,44.07 619.17,45.01 619.38,45.92 619.58,46.80 619.79,47.64 619.99,48.45 620.20,49.20 620.41,49.92 620.61,50.63 620.82,51.31 621.02,51.98 621.23,52.62 621.43,53.24 621.64,53.83 621.84,54.40 622.05,54.94 622.26,55.45 622.46,55.93 622.67,56.37 622.87,56.79 623.08,57.17 623.28,57.51 623.49,57.81 623.69,58.08 623.90,58.30 624.11,58.47 624.31,58.58 624.52,58.64 624.72,58.65 624.93,58.62 625.13,58.55 625.34,58.44 625.54,58.31 625.75,58.15 625.96,57.97 626.16,57.78 626.37,57.59 626.57,57.38 626.78,57.18 626.98,56.99 627.19,56.81 627.39,56.64 627.60,56.50 627.81,56.35 628.01,56.17 628.22,55.97 628.42,55.75 628.63,55.51 628.83,55.26 629.04,55.01 629.24,54.77 629.45,54.53 629.66,54.30 629.86,54.09 630.07,53.90 630.27,53.75 630.48,53.63 630.68,53.55 630.89,53.51 631.09,53.53 631.30,53.60 631.51,53.72 631.71,53.89 631.92,54.10 632.12,54.34 632.33,54.62 632.53,54.93 632.74,55.27 632.94,55.63 633.15,56.03 633.36,56.44 633.56,56.87 633.77,57.31 633.97,57.78 634.18,58.25 634.38,58.73 634.59,59.22 634.79,59.71 635.00,60.20 635.21,60.71 635.41,61.24 635.62,61.80 635.82,62.39 636.03,62.99 636.24,63.61 636.44,64.25 636.65,64.90 636.86,65.55 637.06,66.21 637.27,66.87 637.47,67.53 637.68,68.19 637.88,68.83 638.09,69.47 638.29,70.10 638.50,70.71 638.70,71.30 638.92,71.92 639.13,72.56 639.36,73.22 639.58,73.88 639.80,74.54 640.02,75.20 640.24,75.86 640.47,76.50 640.68,77.13 640.90,77.74 641.11,78.33 641.32,78.89 641.53,79.41 641.73,79.90 641.93,80.35 642.12,80.75 642.30,81.10 642.55,81.52 642.77,81.87 642.99,82.15 643.20,82.36 643.39,82.52 643.59,82.62 643.78,82.67 643.97,82.67 644.17,82.63 644.37,82.55 644.58,82.44 644.80,82.30 644.99,82.14 645.20,81.91 645.42,81.63 645.64,81.30 645.87,80.94 646.11,80.54 646.34,80.13 646.57,79.72 646.79,79.30 647.00,78.90 647.20,78.51 647.38,78.16 647.55,77.85 647.69,77.60 647.80,77.40" fill="none" stroke="#222" stroke-width="1.12" stroke-linejoin="round"/>
<rect x="386.8" y="3.45" width="261" height="102.85" fill="none" stroke="#333333" stroke-width="1.1"/>
<path d="M386.8 106.3v-3.1M386.8 3.45v3.1M427.58 106.3v-3.1M427.58 3.45v3.1M468.36 106.3v-3.1M468.36 3.45v3.1M509.14 106.3v-3.1M509.14 3.45v3.1M549.92 106.3v-3.1M549.92 3.45v3.1M590.71 106.3v-3.1M590.71 3.45v3.1M631.49 106.3v-3.1M631.49 3.45v3.1M386.8 20.9h3.1M647.8 20.9h-3.1M386.8 38.52h3.1M647.8 38.52h-3.1M386.8 56.15h3.1M647.8 56.15h-3.1M386.8 73.77h3.1M647.8 73.77h-3.1M386.8 91.4h3.1M647.8 91.4h-3.1" stroke="#333333" stroke-width="1" fill="none"/>
<text x="386.80" y="122.90" font-size="11.80" fill="#262626" stroke="#262626" stroke-width="0.2" text-anchor="middle">0</text>
<text x="427.58" y="122.90" font-size="11.80" fill="#262626" stroke="#262626" stroke-width="0.2" text-anchor="middle">0.5</text>
<text x="468.36" y="122.90" font-size="11.80" fill="#262626" stroke="#262626" stroke-width="0.2" text-anchor="middle">1</text>
<text x="509.14" y="122.90" font-size="11.80" fill="#262626" stroke="#262626" stroke-width="0.2" text-anchor="middle">1.5</text>
<text x="549.92" y="122.90" font-size="11.80" fill="#262626" stroke="#262626" stroke-width="0.2" text-anchor="middle">2</text>
<text x="590.71" y="122.90" font-size="11.80" fill="#262626" stroke="#262626" stroke-width="0.2" text-anchor="middle">2.5</text>
<text x="631.49" y="122.90" font-size="11.80" fill="#262626" stroke="#262626" stroke-width="0.2" text-anchor="middle">3</text>
<text x="382.20" y="26.30" font-size="11.80" fill="#262626" stroke="#262626" stroke-width="0.2" text-anchor="end">0.01</text>
<text x="382.20" y="43.92" font-size="11.80" fill="#262626" stroke="#262626" stroke-width="0.2" text-anchor="end">0.005</text>
<text x="382.20" y="61.55" font-size="11.80" fill="#262626" stroke="#262626" stroke-width="0.2" text-anchor="end">0</text>
<text x="382.20" y="79.17" font-size="11.80" fill="#262626" stroke="#262626" stroke-width="0.2" text-anchor="end">-0.005</text>
<text x="382.20" y="96.80" font-size="11.80" fill="#262626" stroke="#262626" stroke-width="0.2" text-anchor="end">-0.01</text>
<text x="619.30" y="140.30" font-size="12.51" fill="#262626" stroke="#262626" stroke-width="0.2">×</text>
<text x="628.60" y="139.40" font-size="11.80" fill="#262626" stroke="#262626" stroke-width="0.2">10</text>
<text x="641.00" y="134.00" font-size="10.00" fill="#262626" stroke="#262626" stroke-width="0.2">4</text>
<polyline points="387.00,209.10 387.12,208.65 387.26,208.09 387.42,207.43 387.59,206.70 387.79,205.90 388.00,205.05 388.22,204.16 388.45,203.25 388.69,202.32 388.93,201.40 389.17,200.49 389.42,199.61 389.66,198.78 389.90,198.00 390.08,197.42 390.27,196.83 390.46,196.25 390.65,195.67 390.84,195.08 391.03,194.50 391.23,193.93 391.42,193.36 391.62,192.79 391.83,192.24 392.04,191.69 392.25,191.15 392.46,190.63 392.68,190.11 392.90,189.61 393.13,189.12 393.36,188.65 393.60,188.20 393.78,187.87 393.97,187.53 394.16,187.20 394.36,186.87 394.56,186.54 394.77,186.22 394.98,185.90 395.19,185.59 395.40,185.28 395.62,184.98 395.83,184.69 396.05,184.41 396.27,184.13 396.48,183.87 396.70,183.62 396.91,183.38 397.12,183.15 397.33,182.94 397.54,182.74 397.74,182.56 397.94,182.39 398.13,182.24 398.32,182.11 398.50,182.00 398.74,181.89 398.96,181.82 399.19,181.78 399.40,181.79 399.61,181.82 399.82,181.88 400.03,181.97 400.23,182.07 400.42,182.19 400.62,182.32 400.82,182.46 401.01,182.60 401.21,182.74 401.40,182.87 401.60,183.00 401.80,183.12 402.00,183.22 402.20,183.30 402.41,183.38 402.61,183.48 402.82,183.59 403.02,183.72 403.23,183.85 403.43,183.98 403.64,184.12 403.84,184.25 404.05,184.37 404.26,184.48 404.46,184.58 404.67,184.65 404.87,184.71 405.08,184.73 405.28,184.73 405.49,184.69 405.69,184.62 405.90,184.50 406.10,184.35 406.30,184.18 406.50,183.98 406.70,183.76 406.89,183.52 407.09,183.25 407.28,182.96 407.47,182.65 407.67,182.32 407.87,181.96 408.07,181.58 408.27,181.18 408.48,180.76 408.69,180.31 408.91,179.84 409.13,179.35 409.36,178.84 409.60,178.30 409.78,177.89 409.96,177.46 410.14,177.00 410.33,176.51 410.52,176.01 410.71,175.49 410.91,174.95 411.11,174.39 411.31,173.83 411.51,173.25 411.72,172.67 411.92,172.08 412.13,171.48 412.34,170.89 412.54,170.29 412.75,169.70 412.96,169.11 413.17,168.52 413.38,167.95 413.59,167.39 413.79,166.84 414.00,166.30 414.20,165.78 414.40,165.28 414.60,164.80 414.81,164.31 415.02,163.82 415.23,163.33 415.45,162.85 415.66,162.36 415.88,161.88 416.10,161.40 416.31,160.93 416.53,160.46 416.75,160.00 416.97,159.55 417.18,159.11 417.39,158.68 417.61,158.26 417.81,157.85 418.02,157.46 418.22,157.08 418.42,156.71 418.61,156.37 418.80,156.03 418.98,155.72 419.16,155.43 419.33,155.15 419.50,154.90 419.77,154.51 420.02,154.18 420.25,153.89 420.47,153.64 420.67,153.45 420.87,153.29 421.06,153.17 421.24,153.09 421.42,153.04 421.61,153.02 421.79,153.03 421.99,153.06 422.19,153.12 422.40,153.20 422.59,153.29 422.77,153.40 422.96,153.54 423.14,153.70 423.32,153.89 423.50,154.10 423.68,154.33 423.87,154.58 424.06,154.86 424.25,155.16 424.46,155.48 424.67,155.82 424.88,156.18 425.11,156.57 425.35,156.97 425.60,157.40 425.77,157.69 425.94,158.01 426.12,158.34 426.30,158.69 426.49,159.06 426.68,159.44 426.87,159.84 427.07,160.25 427.27,160.66 427.48,161.09 427.68,161.52 427.89,161.96 428.10,162.39 428.31,162.83 428.52,163.27 428.73,163.71 428.94,164.14 429.16,164.56 429.37,164.97 429.58,165.38 429.79,165.78 429.99,166.16 430.20,166.52 430.40,166.87 430.60,167.20 430.80,167.53 431.01,167.85 431.21,168.16 431.41,168.46 431.61,168.75 431.80,169.03 432.00,169.31 432.19,169.58 432.39,169.85 432.58,170.10 432.78,170.36 432.98,170.61 433.17,170.85 433.37,171.09 433.57,171.33 433.77,171.56 433.98,171.80 434.19,172.03 434.40,172.26 434.61,172.48 434.83,172.71 435.05,172.94 435.27,173.17 435.50,173.40 435.69,173.58 435.88,173.77 436.07,173.95 436.27,174.13 436.47,174.31 436.68,174.48 436.88,174.66 437.09,174.83 437.31,175.00 437.52,175.17 437.73,175.34 437.95,175.51 438.17,175.68 438.38,175.84 438.60,176.01 438.82,176.17 439.03,176.33 439.25,176.49 439.47,176.65 439.68,176.80 439.89,176.96 440.11,177.11 440.32,177.27 440.52,177.42 440.73,177.57 440.93,177.72 441.13,177.86 441.32,178.01 441.51,178.16 441.70,178.30 441.93,178.47 442.15,178.64 442.37,178.79 442.59,178.94 442.81,179.09 443.02,179.22 443.22,179.36 443.43,179.49 443.63,179.61 443.83,179.74 444.03,179.87 444.23,179.99 444.43,180.12 444.62,180.26 444.82,180.39 445.01,180.54 445.21,180.69 445.41,180.84 445.60,181.01 445.80,181.18 446.00,181.37 446.20,181.57 446.40,181.78 446.60,182.00 446.80,182.24 447.01,182.48 447.21,182.74 447.42,183.01 447.62,183.28 447.83,183.56 448.03,183.85 448.23,184.15 448.44,184.45 448.64,184.76 448.85,185.07 449.05,185.39 449.25,185.72 449.46,186.04 449.66,186.37 449.87,186.71 450.07,187.04 450.28,187.38 450.48,187.72 450.68,188.05 450.89,188.39 451.09,188.73 451.30,189.07 451.50,189.40 451.71,189.74 451.92,190.10 452.13,190.47 452.34,190.85 452.56,191.24 452.78,191.64 453.00,192.04 453.22,192.45 453.44,192.86 453.66,193.27 453.88,193.68 454.10,194.08 454.32,194.48 454.53,194.87 454.74,195.26 454.94,195.63 455.15,195.99 455.34,196.34 455.54,196.66 455.72,196.98 455.90,197.27 456.08,197.54 456.24,197.78 456.40,198.00 456.69,198.38 456.94,198.71 457.17,198.99 457.37,199.21 457.55,199.38 457.73,199.50 457.89,199.57 458.07,199.60 458.25,199.59 458.44,199.53 458.66,199.44 458.90,199.30 459.07,199.19 459.25,199.07 459.43,198.94 459.62,198.80 459.81,198.64 460.00,198.46 460.20,198.26 460.40,198.04 460.60,197.80 460.81,197.53 461.02,197.24 461.23,196.92 461.45,196.57 461.67,196.18 461.90,195.77 462.13,195.32 462.36,194.83 462.60,194.30 462.78,193.87 462.97,193.38 463.16,192.86 463.36,192.30 463.56,191.70 463.77,191.08 463.98,190.43 464.19,189.76 464.40,189.07 464.62,188.37 464.83,187.66 465.05,186.95 465.27,186.24 465.48,185.53 465.70,184.83 465.91,184.14 466.12,183.47 466.33,182.82 466.54,182.20 466.74,181.60 466.94,181.04 467.13,180.52 467.32,180.03 467.50,179.60 467.74,179.07 467.96,178.57 468.19,178.10 468.40,177.67 468.61,177.27 468.82,176.89 469.03,176.55 469.23,176.24 469.42,175.95 469.62,175.69 469.82,175.46 470.01,175.26 470.21,175.09 470.40,174.94 470.60,174.82 470.80,174.72 471.00,174.65 471.20,174.60 471.41,174.59 471.62,174.62 471.84,174.68 472.05,174.79 472.27,174.93 472.49,175.10 472.71,175.29 472.93,175.51 473.15,175.75 473.37,176.01 473.58,176.28 473.79,176.56 473.99,176.85 474.19,177.14 474.38,177.44 474.56,177.73 474.73,178.02 474.90,178.30 475.18,178.82 475.42,179.37 475.65,179.95 475.86,180.56 476.06,181.19 476.24,181.84 476.43,182.50 476.61,183.17 476.80,183.84 477.00,184.50 477.20,185.17 477.40,185.84 477.60,186.53 477.80,187.22 478.00,187.92 478.20,188.63 478.40,189.34 478.60,190.06 478.80,190.78 479.00,191.50 479.21,192.23 479.42,192.98 479.63,193.74 479.84,194.51 480.05,195.55 480.26,195.78 480.47,197.00 480.68,197.00 480.89,198.57 481.10,198.53 481.31,199.90 481.51,199.50 481.72,201.31 481.93,200.99 482.14,202.89 482.34,202.06 482.54,204.10 482.73,203.25 482.92,205.02 483.10,204.49 483.34,206.77 483.57,205.21 483.78,207.49 483.98,206.59 484.19,208.65 484.39,206.62 484.60,209.49 484.81,207.42 485.03,210.98 485.24,208.02 485.46,211.72 485.67,208.77 485.89,211.43 486.10,209.17 486.31,212.09 486.53,209.03 486.74,211.62 486.96,208.16 487.17,210.02 487.39,207.58 487.60,208.90 487.81,206.94 488.01,207.64 488.22,205.52 488.42,206.56 488.63,204.08 488.86,204.56 489.10,202.70 489.28,203.38 489.47,201.63 489.66,202.12 489.86,200.54 490.06,200.84 490.27,199.31 490.48,199.41 490.69,198.33 490.89,198.29 491.10,197.24 491.30,197.28 491.51,196.35 491.71,196.51 491.91,195.42 492.12,195.72 492.33,194.17 492.54,194.84 492.75,193.41 492.97,194.17 493.20,192.43 493.40,193.36 493.60,191.91 493.81,192.93 494.02,191.22 494.24,192.03 494.46,190.86 494.67,191.64 494.89,189.85 495.10,191.26 495.31,189.52 495.51,190.58 495.70,188.76 495.92,190.34 496.14,188.15 496.35,189.70 496.56,186.94 496.76,189.35 496.96,187.06 497.15,188.42 497.34,186.53 497.52,188.64 497.70,185.85 497.94,188.47 498.17,185.82 498.38,188.44 498.58,185.87 498.79,188.84 498.99,185.98 499.20,189.29 499.41,186.57 499.63,190.01 499.84,187.18 500.06,190.54 500.27,188.61 500.49,191.26 500.70,188.70 500.91,191.63 501.11,189.55 501.32,191.83 501.52,190.30 501.73,192.43 501.96,191.40 502.20,193.06 502.38,192.61 502.56,193.87 502.74,193.58 502.94,194.74 503.13,194.67 503.33,195.94 503.54,195.88 503.75,196.73 503.97,197.34 504.20,197.95 504.38,198.44 504.57,198.95 504.76,199.47 504.96,200.01 505.16,200.56 505.37,201.12 505.57,201.68 505.78,202.25 505.99,202.81 506.19,203.36 506.40,203.91 506.60,204.44 506.80,204.95 507.01,205.49 507.22,206.02 507.43,206.54 507.64,207.05 507.85,207.56 508.06,208.06 508.26,208.56 508.47,209.06 508.68,209.55 508.88,210.05 509.09,210.55 509.30,211.05 509.51,211.55 509.71,212.03 509.91,212.51 510.11,212.99 510.31,213.46 510.51,213.93 510.71,214.42 510.91,214.91 511.13,215.42 511.34,215.94 511.57,216.48 511.80,217.05 511.99,217.54 512.19,218.06 512.39,218.61 512.59,219.19 512.80,219.79 513.01,220.39 513.22,220.99 513.44,221.59 513.66,222.17 513.88,222.74 514.10,223.27 514.32,223.78 514.55,224.24 514.77,224.65 515.00,225.00 515.19,225.25 515.39,225.48 515.59,225.67 515.80,225.84 516.01,225.98 516.22,226.11 516.44,226.21 516.65,226.30 516.86,226.37 517.07,226.43 517.28,226.48 517.49,226.52 517.69,226.56 517.89,226.59 518.08,226.63 518.26,226.66 518.43,226.70 518.60,226.75 518.88,226.81 519.13,227.24 519.36,226.30 519.58,227.55 519.79,225.82 519.99,227.67 520.18,225.90 520.38,227.50 520.59,225.66 520.80,227.56 521.00,225.84 521.20,228.66 521.40,225.42 521.60,228.81 521.79,225.85 521.99,230.05 522.19,226.05 522.39,230.90 522.59,226.87 522.80,230.75 523.00,226.79 523.21,231.62 523.41,227.66 523.62,231.82 523.83,228.42 524.04,232.55 524.26,229.45 524.47,232.40 524.68,228.96 524.89,233.03 525.09,228.52 525.30,233.47 525.50,228.40 525.70,234.60 525.90,228.08 526.10,234.11 526.30,229.97 526.50,235.12 526.70,229.52 526.90,235.26 527.10,231.38 527.30,236.87 527.50,229.51 527.71,235.97 527.91,230.08 528.12,237.31 528.33,230.14 528.54,237.45 528.76,231.16 528.97,236.59 529.18,233.07 529.39,237.08 529.59,232.33 529.80,239.15 530.00,233.29 530.21,243.14 530.41,232.10 530.61,243.02 530.81,233.05 531.01,242.56 531.20,234.05 531.40,241.32 531.60,236.00 531.80,240.41 532.00,235.58 532.20,240.60 532.40,234.46 532.60,239.47 532.80,233.00 532.99,241.19 533.19,231.97 533.39,239.05 533.59,230.70 533.79,239.00 534.00,231.17 534.20,239.91 534.41,228.70 534.61,241.97 534.82,227.90 535.03,242.11 535.24,229.82 535.46,242.75 535.67,229.09 535.88,241.97 536.09,230.63 536.29,241.35 536.50,230.01 536.70,240.75 536.91,227.80 537.11,239.36 537.31,229.22 537.51,236.35 537.71,229.03 537.90,237.63 538.10,228.64 538.30,235.35 538.50,227.24 538.70,233.86 538.92,227.40 539.15,232.21 539.37,226.26 539.60,233.97 539.83,224.13 540.05,232.80 540.27,222.43 540.49,230.43 540.70,223.26 540.90,228.86 541.11,220.68 541.32,228.17 541.51,220.45 541.70,227.95 541.89,221.06 542.08,227.16 542.27,220.83 542.48,227.25 542.70,221.67 542.89,227.62 543.09,222.17 543.30,226.85 543.52,220.85 543.74,226.70 543.96,222.07 544.18,227.28 544.40,222.92 544.61,226.29 544.81,223.47 545.00,226.45 545.25,223.82 545.49,227.37 545.72,223.30 545.94,228.72 546.15,223.80 546.37,229.16 546.58,222.47 546.80,228.95 547.02,224.59 547.23,229.70 547.44,225.47 547.65,229.98 547.86,226.39 548.07,229.96 548.28,228.64 548.50,230.84 548.72,229.69 548.93,231.49 549.15,230.54 549.36,232.22 549.58,231.84 549.81,233.11 550.05,233.11 550.30,233.95 550.49,234.44 550.69,234.95 550.90,235.50 551.12,236.06 551.34,236.64 551.56,237.24 551.78,237.83 552.00,238.44 552.21,239.03 552.41,239.62 552.60,240.20 552.84,240.96 553.05,241.68 553.25,242.39 553.44,243.10 553.64,243.84 553.86,244.63 554.11,245.50 554.40,246.45 554.56,246.99 554.73,247.60 554.91,248.27 555.09,248.99 555.28,249.73 555.48,250.49 555.68,251.26 555.88,252.02 556.09,252.76 556.30,253.47 556.52,254.13 556.73,254.73 556.95,255.27 557.17,255.71 557.38,256.06 557.60,256.30 557.79,256.43 557.99,256.51 558.19,256.53 558.39,256.51 558.59,256.43 558.80,256.31 559.00,256.15 559.21,255.95 559.42,255.71 559.63,255.43 559.84,255.12 560.05,254.78 560.26,254.41 560.47,254.01 560.68,253.59 560.89,253.14 561.09,252.68 561.30,252.20 561.50,251.69 561.70,251.13 561.90,250.54 562.10,249.90 562.29,249.24 562.49,248.54 562.68,247.81 562.88,247.05 563.07,246.27 563.27,245.48 563.47,244.66 563.68,243.83 563.89,242.99 564.10,242.14 564.31,241.28 564.54,240.42 564.76,239.56 565.00,238.70 565.18,238.05 565.37,237.37 565.56,236.68 565.75,235.97 565.94,235.24 566.14,234.50 566.34,233.75 566.55,232.99 566.75,232.22 566.96,231.45 567.17,230.68 567.38,229.91 567.59,229.14 567.80,228.37 568.02,227.61 568.23,226.86 568.44,226.11 568.65,225.39 568.87,224.67 569.08,223.97 569.28,223.30 569.49,222.64 569.70,222.01 569.90,221.40 570.10,220.81 570.30,220.24 570.50,219.67 570.70,219.12 570.90,218.58 571.10,218.05 571.30,217.53 571.50,217.03 571.70,216.53 571.90,216.04 572.10,215.57 572.29,215.10 572.49,214.64 572.69,214.20 572.89,213.76 573.09,213.33 573.29,212.91 573.49,212.50 573.69,212.10 573.89,211.70 574.09,211.31 574.29,210.94 574.50,210.56 574.70,210.20 574.90,209.86 575.09,209.51 575.29,209.18 575.49,208.84 575.69,208.52 575.89,208.20 576.09,207.88 576.29,207.57 576.49,207.28 576.69,206.98 576.89,206.70 577.09,206.43 577.29,206.17 577.50,205.92 577.70,205.68 577.90,205.46 578.10,205.25 578.30,205.05 578.50,204.86 578.70,204.69 578.90,204.54 579.10,204.40 579.30,204.29 579.50,204.18 579.70,204.10 579.91,204.03 580.11,203.99 580.32,203.97 580.52,203.96 580.73,203.98 580.93,204.01 581.14,204.06 581.34,204.13 581.54,204.21 581.75,204.31 581.95,204.41 582.16,204.53 582.36,204.66 582.56,204.80 582.77,204.95 582.97,205.10 583.17,205.27 583.38,205.43 583.58,205.61 583.78,205.78 583.99,205.96 584.19,206.14 584.40,206.32 584.60,206.50 584.81,206.69 585.01,206.89 585.22,207.11 585.43,207.35 585.64,207.60 585.85,207.85 586.07,208.12 586.28,208.40 586.49,208.68 586.70,208.97 586.91,209.26 587.12,209.55 587.33,209.84 587.54,210.14 587.75,210.43 587.96,210.71 588.16,211.00 588.36,211.27 588.56,211.54 588.75,211.80 588.94,212.04 589.13,212.28 589.32,212.50 589.50,212.70 589.74,212.97 589.96,213.24 590.19,213.52 590.40,213.81 590.61,214.09 590.82,214.36 591.03,214.63 591.23,214.88 591.43,215.12 591.62,215.34 591.82,215.53 592.01,215.69 592.21,215.83 592.40,215.93 592.60,215.99 592.80,216.00 593.00,215.98 593.20,215.90 593.41,215.79 593.61,215.65 593.82,215.48 594.02,215.29 594.23,215.07 594.43,214.82 594.64,214.54 594.84,214.23 595.05,213.88 595.26,213.50 595.46,213.08 595.67,212.62 595.87,212.13 596.08,211.59 596.28,211.01 596.49,210.38 596.69,209.72 596.90,209.00 597.11,208.22 597.31,207.37 597.52,206.44 597.72,205.46 597.93,204.42 598.14,203.33 598.34,202.21 598.55,201.05 598.76,199.87 598.96,198.67 599.17,197.46 599.37,196.24 599.58,195.03 599.78,193.84 599.99,192.66 600.19,191.50 600.40,190.38 600.60,189.30 600.80,188.23 601.00,187.14 601.20,186.04 601.40,184.94 601.60,183.82 601.80,182.71 602.00,181.60 602.20,180.50 602.40,179.41 602.60,178.33 602.80,177.28 603.00,176.26 603.20,175.26 603.40,174.31 603.60,173.38 603.80,172.51 604.00,171.68 604.20,170.90 604.41,170.17 604.62,169.47 604.83,168.81 605.05,168.18 605.27,167.58 605.49,167.01 605.71,166.48 605.93,165.97 606.15,165.49 606.37,165.04 606.58,164.62 606.79,164.22 606.99,163.84 607.19,163.49 607.38,163.16 607.56,162.86 607.74,162.57 607.90,162.30 608.16,161.89 608.39,161.57 608.59,161.35 608.77,161.21 608.94,161.14 609.11,161.13 609.28,161.19 609.46,161.29 609.67,161.43 609.90,161.60 610.07,161.72 610.25,161.82 610.43,161.93 610.61,162.04 610.80,162.17 611.00,162.32 611.20,162.50 611.40,162.72 611.61,162.99 611.82,163.31 612.03,163.69 612.25,164.14 612.46,164.67 612.68,165.29 612.90,166.00 613.08,166.68 613.27,167.44 613.46,168.27 613.66,169.17 613.85,170.13 614.05,171.14 614.25,172.19 614.45,173.28 614.66,174.40 614.86,175.54 615.07,176.68 615.27,177.84 615.48,178.99 615.68,180.12 615.89,181.24 616.09,182.33 616.30,183.39 616.50,184.40 616.70,185.40 616.91,186.41 617.11,187.44 617.32,188.48 617.52,189.52 617.73,190.56 617.93,191.60 618.14,192.63 618.34,193.64 618.55,194.65 618.76,195.63 618.96,196.59 619.17,197.51 619.38,198.41 619.58,199.27 619.79,200.09 619.99,200.87 620.20,201.60 620.41,202.29 620.61,202.97 620.82,203.62 621.02,204.25 621.23,204.86 621.43,205.44 621.64,205.99 621.84,206.51 622.05,207.00 622.26,207.46 622.46,207.88 622.67,208.26 622.87,208.61 623.08,208.91 623.28,209.18 623.49,209.40 623.69,209.57 623.90,209.70 624.10,209.77 624.30,209.77 624.50,209.72 624.70,209.61 624.89,209.45 625.09,209.25 625.28,209.01 625.48,208.74 625.67,208.44 625.87,208.11 626.07,207.77 626.28,207.41 626.49,207.05 626.70,206.69 626.91,206.32 627.14,205.97 627.36,205.62 627.60,205.30 627.78,205.05 627.97,204.78 628.16,204.49 628.36,204.18 628.56,203.85 628.77,203.51 628.98,203.17 629.19,202.81 629.40,202.45 629.62,202.09 629.83,201.73 630.05,201.38 630.27,201.03 630.48,200.69 630.70,200.36 630.91,200.04 631.12,199.75 631.33,199.47 631.54,199.22 631.74,198.99 631.94,198.80 632.13,198.63 632.32,198.50 632.50,198.40 632.74,198.32 632.96,198.29 633.19,198.31 633.40,198.36 633.61,198.45 633.82,198.58 634.03,198.74 634.23,198.93 634.43,199.14 634.62,199.37 634.82,199.62 635.01,199.89 635.21,200.16 635.40,200.45 635.60,200.74 635.80,201.03 636.00,201.32 636.20,201.60 636.41,201.90 636.61,202.22 636.82,202.57 637.02,202.94 637.23,203.32 637.43,203.73 637.64,204.14 637.84,204.56 638.05,204.99 638.26,205.42 638.46,205.84 638.67,206.26 638.87,206.68 639.08,207.08 639.28,207.46 639.49,207.83 639.69,208.18 639.90,208.50 640.10,208.81 640.31,209.12 640.51,209.43 640.71,209.74 640.91,210.05 641.11,210.35 641.32,210.64 641.52,210.92 641.72,211.19 641.92,211.44 642.12,211.68 642.33,211.90 642.54,212.09 642.74,212.27 642.95,212.42 643.17,212.54 643.38,212.64 643.60,212.70 643.80,212.72 644.02,212.71 644.24,212.66 644.48,212.59 644.71,212.49 644.96,212.36 645.20,212.22 645.45,212.06 645.69,211.89 645.93,211.71 646.17,211.53 646.40,211.34 646.62,211.16 646.83,210.98 647.03,210.81 647.22,210.65 647.39,210.50 647.55,210.38 647.68,210.28 647.80,210.20" fill="none" stroke="#222" stroke-width="1.12" stroke-linejoin="round"/>
<rect x="386.8" y="153.7" width="261" height="103.6" fill="none" stroke="#333333" stroke-width="1.1"/>
<path d="M386.8 257.3v-3.1M386.8 153.7v3.1M427.58 257.3v-3.1M427.58 153.7v3.1M468.36 257.3v-3.1M468.36 153.7v3.1M509.14 257.3v-3.1M509.14 153.7v3.1M549.92 257.3v-3.1M549.92 153.7v3.1M590.71 257.3v-3.1M590.71 153.7v3.1M631.49 257.3v-3.1M631.49 153.7v3.1M386.8 167.1h3.1M647.8 167.1h-3.1M386.8 200.8h3.1M647.8 200.8h-3.1M386.8 234.5h3.1M647.8 234.5h-3.1" stroke="#333333" stroke-width="1" fill="none"/>
<text x="386.80" y="273.90" font-size="11.80" fill="#262626" stroke="#262626" stroke-width="0.2" text-anchor="middle">0</text>
<text x="427.58" y="273.90" font-size="11.80" fill="#262626" stroke="#262626" stroke-width="0.2" text-anchor="middle">0.5</text>
<text x="468.36" y="273.90" font-size="11.80" fill="#262626" stroke="#262626" stroke-width="0.2" text-anchor="middle">1</text>
<text x="509.14" y="273.90" font-size="11.80" fill="#262626" stroke="#262626" stroke-width="0.2" text-anchor="middle">1.5</text>
<text x="549.92" y="273.90" font-size="11.80" fill="#262626" stroke="#262626" stroke-width="0.2" text-anchor="middle">2</text>
<text x="590.71" y="273.90" font-size="11.80" fill="#262626" stroke="#262626" stroke-width="0.2" text-anchor="middle">2.5</text>
<text x="631.49" y="273.90" font-size="11.80" fill="#262626" stroke="#262626" stroke-width="0.2" text-anchor="middle">3</text>
<text x="382.20" y="172.50" font-size="11.80" fill="#262626" stroke="#262626" stroke-width="0.2" text-anchor="end">0.01</text>
<text x="382.20" y="206.20" font-size="11.80" fill="#262626" stroke="#262626" stroke-width="0.2" text-anchor="end">0</text>
<text x="382.20" y="239.90" font-size="11.80" fill="#262626" stroke="#262626" stroke-width="0.2" text-anchor="end">-0.01</text>
<text x="619.30" y="291.30" font-size="12.51" fill="#262626" stroke="#262626" stroke-width="0.2">×</text>
<text x="628.60" y="290.40" font-size="11.80" fill="#262626" stroke="#262626" stroke-width="0.2">10</text>
<text x="641.00" y="285.00" font-size="10.00" fill="#262626" stroke="#262626" stroke-width="0.2">4</text>
<polyline points="387.00,319.70 387.11,319.83 387.25,319.97 387.40,320.12 387.56,320.29 387.74,320.46 387.93,320.65 388.13,320.85 388.34,321.07 388.57,321.29 388.79,321.53 389.03,321.78 389.27,322.04 389.51,322.32 389.76,322.61 390.00,322.91 390.25,323.22 390.49,323.55 390.73,323.89 390.97,324.24 391.20,324.60 391.39,324.91 391.58,325.24 391.77,325.58 391.96,325.93 392.15,326.29 392.35,326.67 392.54,327.05 392.74,327.44 392.93,327.84 393.13,328.25 393.33,328.66 393.53,329.09 393.73,329.52 393.94,329.95 394.14,330.39 394.35,330.84 394.56,331.29 394.77,331.74 394.99,332.19 395.21,332.65 395.43,333.11 395.65,333.58 395.87,334.04 396.10,334.50 396.28,334.88 396.47,335.26 396.66,335.66 396.85,336.07 397.05,336.48 397.24,336.90 397.44,337.33 397.64,337.77 397.84,338.21 398.04,338.65 398.24,339.09 398.45,339.54 398.65,339.99 398.86,340.43 399.07,340.88 399.28,341.33 399.49,341.77 399.70,342.20 399.90,342.64 400.11,343.06 400.32,343.48 400.53,343.89 400.74,344.30 400.95,344.69 401.16,345.08 401.37,345.45 401.58,345.81 401.79,346.15 401.99,346.48 402.20,346.80 402.41,347.11 402.61,347.41 402.82,347.71 403.03,348.01 403.24,348.30 403.45,348.59 403.67,348.87 403.88,349.15 404.09,349.42 404.31,349.69 404.52,349.94 404.74,350.19 404.95,350.44 405.16,350.67 405.38,350.90 405.59,351.12 405.80,351.33 406.01,351.53 406.22,351.71 406.43,351.89 406.63,352.06 406.84,352.22 407.04,352.36 407.24,352.49 407.44,352.61 407.64,352.72 407.83,352.81 408.02,352.89 408.21,352.95 408.40,353.00 408.63,353.04 408.85,353.07 409.07,353.09 409.29,353.08 409.50,353.07 409.71,353.03 409.92,352.98 410.13,352.91 410.33,352.83 410.53,352.72 410.73,352.60 410.92,352.46 411.12,352.31 411.32,352.13 411.51,351.94 411.71,351.72 411.90,351.49 412.10,351.24 412.29,350.97 412.49,350.67 412.69,350.36 412.89,350.03 413.10,349.67 413.30,349.30 413.50,348.92 413.69,348.51 413.89,348.07 414.08,347.61 414.28,347.13 414.47,346.62 414.66,346.10 414.85,345.56 415.05,344.99 415.24,344.41 415.43,343.82 415.63,343.21 415.82,342.59 416.02,341.95 416.22,341.31 416.41,340.65 416.62,339.98 416.82,339.31 417.02,338.63 417.23,337.95 417.44,337.26 417.65,336.57 417.86,335.88 418.08,335.19 418.30,334.50 418.49,333.91 418.68,333.31 418.87,332.68 419.07,332.03 419.27,331.37 419.47,330.69 419.67,330.01 419.88,329.31 420.09,328.60 420.30,327.88 420.51,327.16 420.72,326.44 420.93,325.71 421.14,324.98 421.36,324.26 421.57,323.53 421.78,322.82 421.99,322.11 422.20,321.41 422.41,320.72 422.62,320.04 422.83,319.38 423.04,318.73 423.24,318.10 423.44,317.49 423.64,316.90 423.83,316.34 424.03,315.80 424.21,315.28 424.40,314.80 424.63,314.23 424.86,313.68 425.09,313.15 425.31,312.65 425.54,312.18 425.77,311.72 425.99,311.29 426.21,310.88 426.43,310.48 426.65,310.11 426.86,309.75 427.07,309.41 427.28,309.09 427.49,308.78 427.69,308.48 427.89,308.20 428.08,307.93 428.27,307.67 428.46,307.42 428.64,307.18 428.81,306.95 428.98,306.73 429.14,306.51 429.30,306.30 429.59,305.92 429.86,305.62 430.10,305.38 430.32,305.20 430.53,305.06 430.72,304.97 430.90,304.91 431.08,304.87 431.25,304.85 431.43,304.84 431.61,304.82 431.80,304.80 432.04,304.78 432.27,304.80 432.50,304.84 432.74,304.91 432.96,304.99 433.18,305.10 433.40,305.21 433.61,305.34 433.81,305.47 434.00,305.60 434.22,305.73 434.38,305.81 434.51,305.88 434.66,306.02 434.84,306.27 435.11,306.71 435.50,307.40 435.64,307.65 435.79,307.92 435.94,308.20 436.10,308.50 436.28,308.81 436.46,309.14 436.64,309.48 436.83,309.84 437.03,310.21 437.23,310.60 437.44,311.00 437.66,311.41 437.87,311.83 438.09,312.26 438.32,312.71 438.54,313.17 438.77,313.64 439.00,314.12 439.24,314.61 439.47,315.11 439.70,315.62 439.94,316.14 440.17,316.66 440.40,317.20 440.58,317.63 440.77,318.08 440.95,318.54 441.15,319.02 441.34,319.52 441.54,320.03 441.74,320.56 441.94,321.09 442.14,321.64 442.35,322.19 442.56,322.75 442.77,323.32 442.97,323.89 443.18,324.46 443.39,325.04 443.61,325.61 443.82,326.19 444.03,326.76 444.23,327.32 444.44,327.89 444.65,328.44 444.86,328.99 445.06,329.52 445.26,330.05 445.46,330.56 445.66,331.06 445.85,331.54 446.05,332.01 446.23,332.46 446.42,332.89 446.60,333.30 446.83,333.81 447.06,334.30 447.28,334.78 447.51,335.24 447.73,335.69 447.94,336.12 448.16,336.54 448.37,336.95 448.59,337.35 448.79,337.73 449.00,338.10 449.21,338.46 449.41,338.80 449.61,339.14 449.81,339.46 450.00,339.77 450.20,340.07 450.39,340.36 450.58,340.64 450.77,340.91 450.95,341.17 451.14,341.42 451.32,341.67 451.50,341.90 451.73,342.19 451.96,342.47 452.17,342.72 452.38,342.96 452.58,343.17 452.78,343.36 452.98,343.54 453.17,343.69 453.36,343.83 453.55,343.95 453.74,344.05 453.93,344.14 454.13,344.20 454.33,344.26 454.53,344.29 454.75,344.31 454.97,344.31 455.20,344.30 455.38,344.28 455.57,344.24 455.76,344.19 455.95,344.12 456.15,344.05 456.35,343.96 456.56,343.86 456.76,343.75 456.97,343.63 457.18,343.50 457.39,343.36 457.61,343.22 457.82,343.07 458.03,342.91 458.24,342.75 458.45,342.59 458.65,342.42 458.86,342.24 459.06,342.07 459.26,341.90 459.45,341.72 459.64,341.55 459.82,341.37 460.00,341.20 460.23,340.97 460.45,340.72 460.66,340.46 460.86,340.20 461.06,339.93 461.26,339.64 461.45,339.36 461.63,339.07 461.82,338.77 462.00,338.47 462.19,338.17 462.38,337.87 462.57,337.57 462.76,337.27 462.96,336.97 463.17,336.67 463.38,336.38 463.60,336.10 463.79,335.86 463.99,335.62 464.19,335.37 464.40,335.11 464.61,334.84 464.83,334.57 465.05,334.30 465.28,334.03 465.51,333.76 465.73,333.49 465.96,333.23 466.18,332.97 466.40,332.73 466.62,332.49 466.83,332.26 467.04,332.04 467.24,331.84 467.43,331.65 467.61,331.49 467.79,331.34 467.95,331.21 468.10,331.10 468.42,330.93 468.69,330.87 468.90,330.90 469.09,331.01 469.26,331.16 469.42,331.35 469.59,331.55 469.78,331.74 470.00,331.90 470.18,332.00 470.37,332.10 470.56,332.20 470.76,332.30 470.96,332.40 471.16,332.52 471.37,332.65 471.59,332.79 471.80,332.96 472.03,333.14 472.26,333.36 472.50,333.60 472.69,333.81 472.88,334.03 473.07,334.28 473.28,334.54 473.49,334.82 473.70,335.10 473.91,335.40 474.12,335.71 474.34,336.02 474.56,336.33 474.77,336.64 474.98,336.94 475.19,337.25 475.40,337.54 475.60,337.83 475.80,338.10 476.02,338.40 476.24,338.70 476.45,339.00 476.66,339.29 476.87,339.58 477.07,339.87 477.28,340.15 477.48,340.44 477.68,340.72 477.88,341.25 478.09,341.01 478.29,341.94 478.49,341.48 478.70,342.53 478.91,341.93 479.11,343.14 479.32,342.25 479.53,344.12 479.74,342.97 479.94,344.93 480.15,343.02 480.36,345.07 480.56,343.53 480.77,346.38 480.98,343.08 481.19,346.35 481.39,343.53 481.60,347.41 481.81,343.40 482.01,347.36 482.22,344.26 482.43,347.55 482.64,345.39 482.84,347.73 483.05,345.68 483.26,348.70 483.46,346.16 483.67,348.87 483.88,346.61 484.09,349.36 484.29,346.98 484.50,350.19 484.71,346.93 484.91,350.24 485.12,347.03 485.33,350.49 485.54,346.49 485.74,350.47 485.95,346.55 486.16,350.36 486.36,347.40 486.57,350.43 486.78,347.73 486.99,350.34 487.19,348.30 487.40,351.19 487.61,347.72 487.81,350.81 488.02,348.41 488.23,350.74 488.43,348.58 488.64,351.14 488.84,348.49 489.05,351.39 489.26,347.65 489.46,352.70 489.67,348.96 489.88,353.53 490.09,348.53 490.30,353.03 490.50,349.26 490.70,353.60 490.90,349.35 491.10,352.43 491.30,348.96 491.50,351.87 491.70,347.95 491.90,351.28 492.10,347.01 492.30,349.84 492.50,346.93 492.70,349.99 492.90,345.52 493.10,349.66 493.30,344.67 493.51,349.24 493.72,343.19 493.93,349.54 494.14,343.26 494.34,348.65 494.55,343.11 494.76,349.73 494.96,341.47 495.17,347.13 495.37,342.35 495.58,347.31 495.79,341.85 495.99,346.52 496.20,340.70 496.41,345.97 496.61,340.93 496.82,346.38 497.03,340.39 497.24,344.88 497.44,340.77 497.65,343.88 497.86,340.39 498.06,344.17 498.27,340.42 498.48,344.15 498.69,339.94 498.89,344.43 499.10,338.76 499.31,344.53 499.51,339.66 499.72,343.95 499.93,338.59 500.14,343.17 500.34,338.74 500.55,342.38 500.76,339.36 500.96,341.96 501.17,338.70 501.38,341.92 501.59,339.50 501.79,341.90 502.00,339.76 502.21,342.87 502.41,339.40 502.62,343.64 502.83,339.31 503.04,343.90 503.24,339.68 503.45,344.28 503.66,340.16 503.86,345.93 504.07,342.01 504.28,347.43 504.49,341.86 504.69,347.70 504.90,344.13 505.11,349.20 505.31,344.34 505.52,349.43 505.73,345.25 505.94,349.36 506.14,347.20 506.35,350.13 506.56,348.07 506.76,351.50 506.97,348.32 507.18,351.65 507.39,349.80 507.59,352.87 507.80,350.12 508.01,355.23 508.21,350.30 508.42,356.70 508.63,351.23 508.84,357.84 509.04,353.54 509.25,358.53 509.46,355.08 509.66,360.63 509.87,355.25 510.08,361.14 510.29,357.71 510.49,361.82 510.70,358.93 510.91,363.66 511.12,359.17 511.33,364.74 511.54,360.75 511.75,367.51 511.96,362.99 512.17,368.47 512.38,362.87 512.59,370.09 512.79,364.82 513.00,371.90 513.20,366.05 513.40,371.95 513.60,367.82 513.81,373.93 514.02,368.53 514.23,374.71 514.43,370.29 514.64,374.77 514.84,371.89 515.04,376.42 515.24,372.03 515.43,376.99 515.63,372.68 515.82,379.26 516.01,373.44 516.20,378.25 516.42,372.95 516.63,379.63 516.84,373.88 517.05,380.80 517.25,374.61 517.46,381.25 517.66,374.96 517.87,382.97 518.07,375.02 518.28,382.75 518.50,376.39 518.70,382.81 518.90,376.45 519.11,384.96 519.31,375.11 519.52,385.41 519.73,375.65 519.94,386.66 520.15,376.64 520.36,385.34 520.58,377.39 520.79,385.85 521.00,379.16 521.20,386.05 521.40,379.93 521.60,387.23 521.80,381.01 522.00,388.91 522.20,381.28 522.40,389.57 522.60,379.03 522.80,387.73 523.00,378.46 523.20,389.30 523.40,377.50 523.60,388.32 523.81,378.53 524.02,388.03 524.23,378.83 524.44,386.10 524.65,377.94 524.86,383.31 525.06,377.18 525.27,383.80 525.48,376.04 525.68,382.59 525.89,376.01 526.10,381.69 526.31,374.82 526.52,379.54 526.73,374.45 526.93,379.49 527.14,373.82 527.35,378.13 527.56,372.47 527.77,377.51 527.98,369.07 528.18,379.66 528.39,366.58 528.60,377.62 528.81,366.88 529.02,376.24 529.23,365.35 529.43,372.66 529.64,364.15 529.85,370.05 530.06,362.78 530.27,369.49 530.48,363.25 530.68,369.46 530.89,361.98 531.10,368.70 531.31,361.11 531.52,368.79 531.73,358.99 531.93,367.33 532.14,359.28 532.35,366.28 532.56,357.84 532.77,364.49 532.98,355.93 533.18,362.34 533.39,356.01 533.60,360.53 533.81,354.58 534.02,360.64 534.22,355.06 534.43,359.37 534.64,353.31 534.84,359.42 535.05,351.86 535.26,358.18 535.47,350.35 535.68,357.00 535.89,351.16 536.10,357.84 536.30,350.47 536.50,355.99 536.70,348.90 536.90,356.34 537.10,349.34 537.30,358.14 537.50,348.08 537.70,357.96 537.90,348.51 538.10,358.78 538.30,349.09 538.50,359.36 538.70,348.39 538.91,360.30 539.12,348.38 539.33,359.79 539.54,349.81 539.75,359.67 539.96,350.78 540.16,357.13 540.37,350.57 540.58,358.13 540.78,352.03 540.99,357.92 541.20,353.03 541.41,357.90 541.62,352.59 541.83,359.24 542.03,353.19 542.24,358.57 542.45,354.49 542.66,360.24 542.87,355.99 543.08,360.76 543.28,357.54 543.49,362.32 543.70,358.10 543.91,363.12 544.12,358.88 544.33,364.93 544.53,358.84 544.74,365.98 544.95,361.03 545.16,367.52 545.37,361.69 545.58,368.65 545.78,361.63 545.99,368.53 546.20,363.61 546.41,372.08 546.62,365.41 546.83,372.27 547.03,366.94 547.24,371.89 547.45,368.54 547.66,372.76 547.87,369.87 548.08,374.67 548.28,369.55 548.49,377.59 548.70,369.03 548.91,378.08 549.12,369.38 549.32,380.11 549.53,372.19 549.74,382.00 549.94,373.56 550.15,381.75 550.36,376.02 550.57,382.34 550.78,377.80 550.99,383.20 551.20,378.93 551.41,384.69 551.63,381.46 551.85,387.45 552.06,381.98 552.28,389.18 552.50,383.37 552.72,391.39 552.94,383.66 553.15,392.30 553.37,384.68 553.59,393.68 553.80,386.94 554.01,393.50 554.22,389.44 554.43,392.94 554.64,390.01 554.85,395.05 555.06,391.07 555.26,395.52 555.47,392.38 555.68,396.29 555.88,391.98 556.09,397.54 556.30,392.98 556.51,397.70 556.72,395.01 556.92,399.76 557.13,394.98 557.34,401.45 557.55,395.77 557.76,403.56 557.97,396.78 558.17,405.76 558.38,398.92 558.59,407.41 558.80,399.15 559.01,406.87 559.22,400.08 559.43,407.07 559.65,397.86 559.86,404.95 560.07,398.85 560.29,404.69 560.50,400.14 560.70,404.12 560.91,399.11 561.11,404.08 561.30,398.18 561.53,403.14 561.74,397.92 561.96,401.63 562.16,397.62 562.37,400.52 562.57,396.23 562.78,399.27 562.98,394.86 563.19,398.17 563.40,394.60 563.59,396.89 563.79,393.21 563.98,396.19 564.17,390.71 564.37,394.12 564.56,388.92 564.76,392.59 564.96,386.02 565.17,390.02 565.38,383.05 565.60,386.86 565.79,381.27 565.99,386.40 566.19,378.24 566.39,386.05 566.60,375.51 566.81,385.04 567.03,373.00 567.24,380.18 567.45,370.54 567.67,378.58 567.88,369.31 568.09,376.98 568.30,367.88 568.51,373.95 568.72,364.66 568.94,370.82 569.15,363.04 569.37,369.49 569.58,360.37 569.79,365.41 570.01,359.14 570.21,362.80 570.42,356.18 570.62,360.92 570.81,353.25 571.00,360.56 571.23,351.93 571.46,359.32 571.67,347.64 571.87,356.48 572.08,348.23 572.27,353.62 572.47,346.08 572.68,351.94 572.88,343.80 573.10,348.02 573.30,343.11 573.50,345.58 573.70,340.88 573.90,345.65 574.11,337.54 574.32,342.83 574.53,335.41 574.74,341.25 574.95,334.02 575.18,340.15 575.40,333.84 575.60,339.85 575.80,331.60 576.01,338.56 576.23,332.28 576.45,337.78 576.67,331.42 576.89,336.74 577.11,331.78 577.32,336.58 577.53,331.55 577.73,335.16 577.92,330.52 578.10,334.82 578.37,330.53 578.61,335.93 578.84,327.91 579.06,335.74 579.26,329.07 579.47,337.28 579.68,329.29 579.90,337.08 580.10,328.70 580.28,337.79 580.47,331.30 580.65,337.77 580.84,331.64 581.03,341.17 581.24,332.10 581.46,340.01 581.70,334.49 581.88,341.82 582.07,336.08 582.26,342.95 582.46,336.38 582.67,343.93 582.89,337.83 583.10,344.88 583.32,337.82 583.54,344.70 583.76,340.18 583.98,345.48 584.19,341.26 584.40,346.44 584.61,341.50 584.82,346.81 585.02,342.36 585.23,346.73 585.44,343.94 585.65,348.24 585.85,345.66 586.06,348.58 586.27,346.33 586.48,349.82 586.68,346.18 586.89,350.50 587.10,347.04 587.31,351.51 587.52,348.70 587.74,352.49 587.96,350.18 588.18,353.76 588.40,352.60 588.61,354.67 588.83,353.29 589.04,356.39 589.24,354.39 589.43,356.91 589.62,355.14 589.80,358.09 590.03,356.71 590.24,358.75 590.43,357.36 590.61,359.25 590.79,358.47 590.97,359.92 591.16,358.61 591.37,360.42 591.60,359.14 591.78,360.45 591.97,358.74 592.16,360.43 592.36,358.45 592.57,360.38 592.79,357.88 593.00,360.17 593.22,357.28 593.44,359.27 593.66,356.65 593.88,359.13 594.09,356.11 594.30,358.56 594.51,355.46 594.72,358.36 594.93,355.19 595.13,357.51 595.34,354.35 595.55,357.15 595.76,353.39 595.97,356.88 596.18,352.42 596.38,356.23 596.59,350.94 596.80,356.25 597.00,348.66 597.21,355.94 597.41,348.13 597.62,353.77 597.83,346.92 598.04,353.27 598.25,347.66 598.46,351.92 598.66,347.48 598.86,352.43 599.06,346.82 599.25,351.88 599.43,346.95 599.60,351.23 599.86,346.20 600.11,349.24 600.33,344.03 600.55,346.95 600.76,341.19 600.97,346.14 601.18,340.96 601.40,344.68 601.59,339.77 601.77,344.95 601.93,340.36 602.10,344.75 602.28,340.98 602.47,344.39 602.68,342.25 602.92,344.51 603.20,342.85 603.36,344.70 603.53,342.60 603.71,344.60 603.89,342.44 604.08,344.56 604.27,342.96 604.47,344.22 604.68,343.11 604.89,344.34 605.11,342.92 605.34,344.18 605.57,343.14 605.80,344.08 606.05,343.21 606.29,344.19 606.54,343.27 606.80,344.16 606.97,343.43 607.15,344.11 607.33,343.60 607.52,344.12 607.71,343.62 607.91,344.14 608.10,343.98 608.30,344.01 608.51,344.04 608.72,344.08 608.92,344.12 609.13,344.16 609.34,344.20 609.56,344.24 609.77,344.29 609.98,344.34 610.19,344.39 610.40,344.45 610.61,344.52 610.82,344.58 611.02,344.65 611.22,344.73 611.42,344.81 611.62,344.90 611.81,345.00 612.00,345.10 612.22,345.23 612.43,345.36 612.65,345.50 612.85,345.65 613.06,345.81 613.26,345.97 613.47,346.13 613.67,346.30 613.87,346.48 614.06,346.66 614.26,346.85 614.46,347.05 614.66,347.24 614.86,347.45 615.06,347.65 615.26,347.86 615.46,348.08 615.66,348.30 615.87,348.52 616.07,348.74 616.29,348.97 616.50,349.20 616.69,349.41 616.88,349.63 617.08,349.85 617.27,350.09 617.47,350.33 617.67,350.58 617.87,350.83 618.07,351.09 618.27,351.35 618.47,351.61 618.67,351.88 618.87,352.14 619.08,352.41 619.28,352.67 619.48,352.94 619.69,353.20 619.89,353.46 620.09,353.71 620.30,353.96 620.50,354.20 620.70,354.44 620.90,354.67 621.10,354.89 621.30,355.10 621.50,355.30 621.71,355.51 621.92,355.72 622.13,355.93 622.34,356.14 622.55,356.35 622.76,356.57 622.97,356.78 623.19,356.99 623.40,357.19 623.61,357.39 623.82,357.58 624.03,357.76 624.24,357.94 624.45,358.10 624.65,358.26 624.86,358.40 625.06,358.53 625.26,358.65 625.46,358.75 625.65,358.84 625.85,358.91 626.03,358.96 626.22,358.99 626.40,359.00 626.64,358.99 626.86,358.96 627.09,358.91 627.30,358.84 627.52,358.75 627.73,358.63 627.93,358.50 628.13,358.33 628.33,358.15 628.53,357.94 628.72,357.71 628.92,357.44 629.11,357.16 629.31,356.84 629.50,356.50 629.70,356.13 629.90,355.73 630.10,355.30 630.30,354.84 630.50,354.33 630.70,353.79 630.90,353.22 631.10,352.61 631.30,351.97 631.50,351.31 631.70,350.63 631.90,349.92 632.10,349.19 632.30,348.45 632.50,347.69 632.70,346.92 632.90,346.15 633.10,345.36 633.30,344.58 633.50,343.79 633.70,343.00 633.90,342.19 634.11,341.34 634.31,340.45 634.52,339.53 634.72,338.58 634.93,337.62 635.13,336.64 635.34,335.67 635.54,334.69 635.75,333.72 635.96,332.76 636.16,331.83 636.37,330.92 636.58,330.04 636.78,329.21 636.99,328.42 637.19,327.68 637.40,327.00 637.61,326.37 637.81,325.78 638.02,325.22 638.22,324.69 638.43,324.19 638.63,323.73 638.84,323.28 639.04,322.87 639.25,322.48 639.46,322.10 639.66,321.75 639.87,321.42 640.07,321.10 640.28,320.80 640.48,320.51 640.69,320.23 640.89,319.96 641.10,319.70 641.31,319.45 641.51,319.22 641.72,319.01 641.94,318.82 642.15,318.65 642.36,318.49 642.57,318.35 642.78,318.23 642.99,318.12 643.20,318.02 643.41,317.94 643.62,317.87 643.82,317.82 644.02,317.77 644.22,317.74 644.42,317.72 644.61,317.70 644.80,317.70 645.03,317.72 645.26,317.78 645.49,317.88 645.73,318.00 645.96,318.14 646.19,318.31 646.42,318.48 646.64,318.67 646.85,318.85 647.05,319.03 647.23,319.21 647.40,319.36 647.56,319.50 647.69,319.62 647.80,319.70" fill="none" stroke="#222" stroke-width="1.12" stroke-linejoin="round"/>
<rect x="386.8" y="305.2" width="261" height="102.3" fill="none" stroke="#333333" stroke-width="1.1"/>
<path d="M386.8 407.5v-3.1M386.8 305.2v3.1M427.58 407.5v-3.1M427.58 305.2v3.1M468.36 407.5v-3.1M468.36 305.2v3.1M509.14 407.5v-3.1M509.14 305.2v3.1M549.92 407.5v-3.1M549.92 305.2v3.1M590.71 407.5v-3.1M590.71 305.2v3.1M631.49 407.5v-3.1M631.49 305.2v3.1M386.8 318.7h3.1M647.8 318.7h-3.1M386.8 348.23h3.1M647.8 348.23h-3.1M386.8 377.77h3.1M647.8 377.77h-3.1M386.8 407.3h3.1M647.8 407.3h-3.1" stroke="#333333" stroke-width="1" fill="none"/>
<text x="386.80" y="424.10" font-size="11.80" fill="#262626" stroke="#262626" stroke-width="0.2" text-anchor="middle">0</text>
<text x="427.58" y="424.10" font-size="11.80" fill="#262626" stroke="#262626" stroke-width="0.2" text-anchor="middle">0.5</text>
<text x="468.36" y="424.10" font-size="11.80" fill="#262626" stroke="#262626" stroke-width="0.2" text-anchor="middle">1</text>
<text x="509.14" y="424.10" font-size="11.80" fill="#262626" stroke="#262626" stroke-width="0.2" text-anchor="middle">1.5</text>
<text x="549.92" y="424.10" font-size="11.80" fill="#262626" stroke="#262626" stroke-width="0.2" text-anchor="middle">2</text>
<text x="590.71" y="424.10" font-size="11.80" fill="#262626" stroke="#262626" stroke-width="0.2" text-anchor="middle">2.5</text>
<text x="631.49" y="424.10" font-size="11.80" fill="#262626" stroke="#262626" stroke-width="0.2" text-anchor="middle">3</text>
<text x="382.20" y="324.10" font-size="11.80" fill="#262626" stroke="#262626" stroke-width="0.2" text-anchor="end">0.01</text>
<text x="382.20" y="353.63" font-size="11.80" fill="#262626" stroke="#262626" stroke-width="0.2" text-anchor="end">0</text>
<text x="382.20" y="383.17" font-size="11.80" fill="#262626" stroke="#262626" stroke-width="0.2" text-anchor="end">-0.01</text>
<text x="382.20" y="412.70" font-size="11.80" fill="#262626" stroke="#262626" stroke-width="0.2" text-anchor="end">-0.02</text>
<text x="619.30" y="441.50" font-size="12.51" fill="#262626" stroke="#262626" stroke-width="0.2">×</text>
<text x="628.60" y="440.60" font-size="11.80" fill="#262626" stroke="#262626" stroke-width="0.2">10</text>
<text x="641.00" y="435.20" font-size="10.00" fill="#262626" stroke="#262626" stroke-width="0.2">4</text>
<text x="54.20" y="25.45" font-size="10.00" fill="#555" stroke="#555" stroke-width="0.2" font-style="italic">ω</text>
<text x="62.60" y="31.75" font-size="9.60" fill="#262626" stroke="#262626" stroke-width="0.2">p</text>
<text x="68.60" y="26.45" font-size="11.80" fill="#262626" stroke="#262626" stroke-width="0.2">t=30000</text>
<text x="54.20" y="175.70" font-size="10.00" fill="#555" stroke="#555" stroke-width="0.2" font-style="italic">ω</text>
<text x="62.60" y="182.00" font-size="9.60" fill="#262626" stroke="#262626" stroke-width="0.2">p</text>
<text x="68.60" y="176.70" font-size="11.80" fill="#262626" stroke="#262626" stroke-width="0.2">t=36000</text>
<text x="54.20" y="327.20" font-size="10.00" fill="#555" stroke="#555" stroke-width="0.2" font-style="italic">ω</text>
<text x="62.60" y="333.50" font-size="9.60" fill="#262626" stroke="#262626" stroke-width="0.2">p</text>
<text x="68.60" y="328.20" font-size="11.80" fill="#262626" stroke="#262626" stroke-width="0.2">t=52000</text>
<text x="-10.61" y="0.00" font-size="13.20" fill="#262626" stroke="#262626" stroke-width="0.2" transform="translate(12.9 55.88) rotate(-90)">|E|</text>
<text x="5.05" y="-6.20" font-size="10.00" fill="#262626" stroke="#262626" stroke-width="0.2" transform="translate(12.9 55.88) rotate(-90)">2</text>
<text x="-15.85" y="0.00" font-size="14.50" fill="#262626" stroke="#262626" stroke-width="0.2" transform="translate(339.6 55.58) rotate(-90)">δ</text>
<text x="-7.78" y="0.00" font-size="13.20" fill="#262626" stroke="#262626" stroke-width="0.2" transform="translate(339.6 55.58) rotate(-90)">n/n</text>
<text x="10.57" y="5.60" font-size="9.50" fill="#262626" stroke="#262626" stroke-width="0.2" transform="translate(339.6 55.58) rotate(-90)">0</text>
<text x="-10.61" y="0.00" font-size="13.20" fill="#262626" stroke="#262626" stroke-width="0.2" transform="translate(12.9 206.5) rotate(-90)">|E|</text>
<text x="5.05" y="-6.20" font-size="10.00" fill="#262626" stroke="#262626" stroke-width="0.2" transform="translate(12.9 206.5) rotate(-90)">2</text>
<text x="-15.85" y="0.00" font-size="14.50" fill="#262626" stroke="#262626" stroke-width="0.2" transform="translate(343.8 206.8) rotate(-90)">δ</text>
<text x="-7.78" y="0.00" font-size="13.20" fill="#262626" stroke="#262626" stroke-width="0.2" transform="translate(343.8 206.8) rotate(-90)">n/n</text>
<text x="10.57" y="5.60" font-size="9.50" fill="#262626" stroke="#262626" stroke-width="0.2" transform="translate(343.8 206.8) rotate(-90)">0</text>
<text x="-10.61" y="0.00" font-size="13.20" fill="#262626" stroke="#262626" stroke-width="0.2" transform="translate(12.9 357.35) rotate(-90)">|E|</text>
<text x="5.05" y="-6.20" font-size="10.00" fill="#262626" stroke="#262626" stroke-width="0.2" transform="translate(12.9 357.35) rotate(-90)">2</text>
<text x="-15.85" y="0.00" font-size="14.50" fill="#262626" stroke="#262626" stroke-width="0.2" transform="translate(343.8 356.55) rotate(-90)">δ</text>
<text x="-7.78" y="0.00" font-size="13.20" fill="#262626" stroke="#262626" stroke-width="0.2" transform="translate(343.8 356.55) rotate(-90)">n/n</text>
<text x="10.57" y="5.60" font-size="9.50" fill="#262626" stroke="#262626" stroke-width="0.2" transform="translate(343.8 356.55) rotate(-90)">0</text>
<text x="171.30" y="440.60" font-size="13.20" fill="#262626" stroke="#262626" stroke-width="0.2">z</text>
<text x="177.00" y="440.60" font-size="13.20" fill="#262626" stroke="#262626" stroke-width="0.2">/</text>
<text x="181.90" y="440.60" font-size="13.20" fill="#262626" stroke="#262626" stroke-width="0.2">λ</text>
<text x="189.30" y="446.80" font-size="9.50" fill="#262626" stroke="#262626" stroke-width="0.2">D</text>
<text x="504.50" y="440.60" font-size="13.20" fill="#262626" stroke="#262626" stroke-width="0.2">z</text>
<text x="510.20" y="440.60" font-size="13.20" fill="#262626" stroke="#262626" stroke-width="0.2">/</text>
<text x="515.10" y="440.60" font-size="13.20" fill="#262626" stroke="#262626" stroke-width="0.2">λ</text>
<text x="522.50" y="446.80" font-size="9.50" fill="#262626" stroke="#262626" stroke-width="0.2">D</text>
</g></svg>
</body></html>
